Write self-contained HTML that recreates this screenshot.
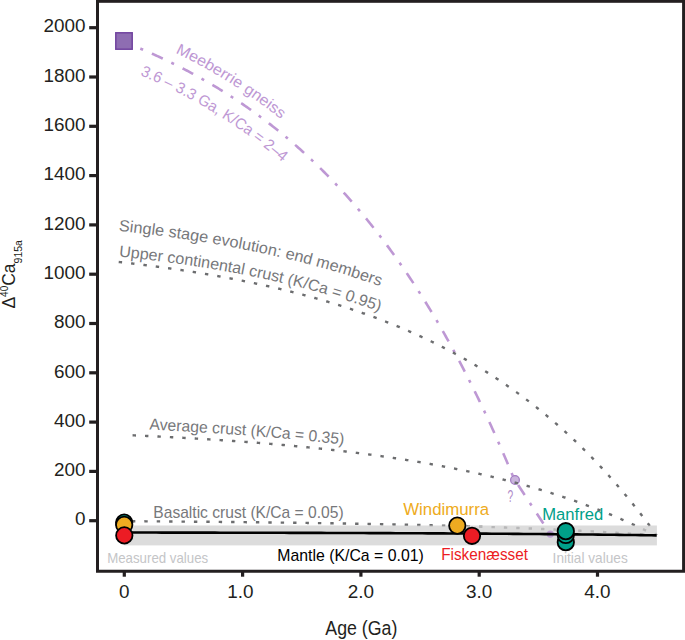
<!DOCTYPE html>
<html><head><meta charset="utf-8"><style>
html,body{margin:0;padding:0;background:#fff;}
body{width:685px;height:640px;overflow:hidden;}
svg{display:block;}
</style></head><body>
<svg width="685" height="640" viewBox="0 0 685 640">
<defs>
<path id="pMeebU" d="M91.01 17.40 L128.22 32.07 L129.53 32.58 L130.86 33.11 L132.18 33.63 L133.50 34.17 L134.82 34.70 L136.14 35.24 L137.46 35.78 L138.79 36.32 L140.11 36.87 L141.43 37.42 L142.75 37.97 L144.07 38.53 L145.40 39.09 L146.72 39.65 L148.04 40.22 L149.36 40.79 L150.69 41.37 L152.01 41.95 L153.33 42.53 L154.65 43.11 L155.98 43.70 L157.30 44.29 L158.62 44.89 L159.95 45.49 L161.27 46.09 L162.59 46.70 L163.92 47.31 L165.24 47.93 L166.56 48.55 L167.89 49.17 L169.21 49.79 L170.53 50.42 L171.86 51.06 L173.18 51.70 L174.50 52.34 L175.83 52.98 L177.15 53.63 L178.47 54.29 L179.80 54.94 L181.12 55.61 L182.45 56.27 L183.77 56.94 L185.09 57.62 L186.42 58.29 L187.74 58.98 L189.07 59.66 L190.39 60.35 L191.72 61.05 L193.04 61.75 L194.37 62.45 L195.69 63.16 L197.01 63.87 L198.34 64.59 L199.66 65.31 L200.99 66.04 L202.31 66.77 L203.64 67.50 L204.96 68.24 L206.29 68.98 L207.61 69.73 L208.94 70.49 L210.26 71.24 L211.59 72.00 L212.91 72.77 L214.24 73.54 L215.56 74.32 L216.89 75.10 L218.21 75.89 L219.54 76.68 L220.87 77.47 L222.19 78.27 L223.52 79.08 L224.84 79.89 L226.17 80.70 L227.49 81.52 L228.82 82.35 L230.14 83.18 L231.47 84.01 L232.79 84.85 L234.12 85.70 L235.45 86.55 L236.77 87.41 L238.10 88.27 L239.42 89.13 L240.75 90.00 L242.07 90.88 L243.40 91.76 L244.73 92.65 L246.05 93.55 L247.38 94.44 L248.70 95.35 L250.03 96.26 L251.35 97.17 L252.68 98.09 L254.01 99.02 L255.33 99.95 L256.66 100.89 L257.98 101.84 L259.31 102.78 L260.63 103.74 L261.96 104.70 L263.29 105.67 L264.61 106.64 L265.94 107.62 L267.26 108.60 L268.59 109.60 L269.91 110.59 L271.24 111.60 L272.57 112.60 L273.89 113.62 L275.22 114.64 L276.54 115.67 L277.87 116.70 L279.19 117.74 L280.52 118.79 L281.85 119.84 L283.17 120.90 L284.50 121.97 L285.82 123.04 L287.15 124.12 L288.47 125.20 L289.80 126.30 L291.12 127.39 L292.45 128.50 L293.77 129.61 L295.10 130.73 L296.42 131.86 L297.75 132.99 L299.07 134.13 L300.40 135.27 L301.72 136.43 L303.05 137.59 L304.37 138.76 L305.70 139.93 L307.02 141.11 L308.35 142.30 L309.67 143.50 L311.00 144.70 L312.32 145.91 L313.65 147.13 L314.97 148.35 L316.30 149.59 L317.62 150.83 L318.95 152.07 L320.27 153.33 L321.59 154.59 L322.92 155.86 L324.24 157.14 L325.57 158.43 L326.89 159.72 L328.21 161.02 L329.54 162.33 L330.86 163.65 L332.19 164.98 L333.51 166.31 L334.83 167.65 L336.16 169.00 L337.48 170.36 L338.80 171.72 L340.13 173.10 L341.45 174.48 L342.77 175.87 L344.10 177.27 L345.42 178.68 L346.74 180.10 L348.06 181.52 L349.39 182.96 L350.71 184.40 L352.03 185.85 L353.35 187.31 L354.68 188.78 L356.00 190.26 L357.32 191.74 L358.64 193.24 L359.97 194.74 L361.29 196.26 L362.61 197.78 L363.93 199.31 L365.25 200.85 L366.57 202.40 L367.90 203.96 L369.22 205.53 L370.54 207.11 L371.86 208.70 L373.18 210.30 L374.50 211.90 L375.82 213.52 L377.14 215.15 L378.46 216.79 L379.78 218.43 L381.11 220.09 L382.43 221.76 L383.75 223.43 L385.07 225.12 L386.39 226.82 L387.71 228.52 L389.03 230.24 L390.35 231.97 L391.66 233.69 L415.84 265.55"/>
<path id="pMeebL" d="M77.66 51.30 L115.15 65.24 L116.43 65.72 L117.70 66.19 L118.96 66.67 L120.22 67.15 L121.48 67.63 L122.74 68.11 L124.01 68.60 L125.27 69.09 L126.53 69.58 L127.79 70.08 L129.05 70.58 L130.31 71.08 L131.57 71.59 L132.84 72.10 L134.10 72.61 L135.36 73.13 L136.62 73.65 L137.88 74.17 L139.14 74.69 L140.40 75.22 L141.66 75.75 L142.92 76.29 L144.18 76.83 L145.45 77.37 L146.71 77.92 L147.97 78.47 L149.23 79.02 L150.49 79.58 L151.75 80.14 L153.01 80.70 L154.27 81.27 L155.53 81.84 L156.79 82.41 L158.05 82.99 L159.31 83.57 L160.57 84.16 L161.83 84.75 L163.09 85.34 L164.35 85.94 L165.61 86.54 L166.87 87.14 L168.13 87.75 L169.39 88.36 L170.65 88.98 L171.91 89.60 L173.18 90.22 L174.44 90.85 L175.70 91.48 L176.96 92.12 L178.22 92.76 L179.48 93.40 L180.74 94.05 L182.00 94.70 L183.26 95.36 L184.52 96.02 L185.78 96.68 L187.04 97.35 L188.30 98.02 L189.56 98.70 L190.82 99.38 L192.08 100.07 L193.34 100.76 L194.60 101.45 L195.86 102.15 L197.12 102.85 L198.38 103.56 L199.65 104.27 L200.91 104.99 L202.17 105.71 L203.43 106.44 L204.69 107.17 L205.95 107.90 L207.21 108.64 L208.47 109.39 L209.73 110.14 L211.00 110.89 L212.26 111.65 L213.52 112.41 L214.78 113.18 L216.04 113.96 L217.30 114.73 L218.56 115.52 L219.83 116.31 L221.09 117.10 L222.35 117.90 L223.61 118.70 L224.88 119.51 L226.14 120.32 L227.40 121.14 L228.66 121.97 L229.93 122.79 L231.19 123.63 L232.45 124.47 L233.71 125.31 L234.98 126.16 L236.24 127.02 L237.50 127.88 L238.77 128.75 L240.03 129.62 L241.29 130.50 L242.56 131.38 L243.82 132.27 L245.09 133.17 L246.35 134.07 L247.62 134.97 L248.88 135.89 L250.14 136.80 L251.41 137.73 L252.67 138.66 L253.94 139.59 L255.21 140.54 L256.47 141.48 L257.74 142.44 L259.00 143.40 L260.27 144.36 L261.53 145.33 L262.80 146.31 L264.07 147.30 L265.33 148.29 L266.60 149.28 L267.87 150.29 L269.14 151.30 L270.40 152.31 L271.67 153.34 L272.94 154.37 L274.21 155.40 L275.47 156.45 L276.74 157.49 L278.01 158.55 L279.28 159.61 L280.55 160.68 L281.82 161.76 L283.09 162.84 L284.36 163.93 L285.63 165.03 L286.90 166.13 L288.17 167.25 L289.44 168.36 L290.71 169.49 L291.98 170.62 L293.25 171.76 L294.52 172.91 L295.79 174.06 L297.07 175.23 L298.34 176.40 L299.61 177.57 L300.88 178.76 L302.16 179.95 L303.43 181.15 L304.70 182.36 L305.98 183.57 L307.25 184.79 L308.53 186.02 L309.80 187.26 L311.07 188.51 L312.35 189.76 L313.62 191.03 L314.90 192.30 L316.18 193.58 L317.45 194.86 L318.73 196.16 L320.00 197.46 L321.28 198.78 L322.56 200.10 L323.83 201.42 L325.11 202.76 L326.39 204.11 L327.67 205.46 L328.95 206.83 L330.22 208.20 L331.50 209.58 L332.78 210.97 L334.06 212.37 L335.34 213.77 L336.62 215.19 L337.90 216.62 L339.18 218.05 L340.46 219.50 L341.74 220.95 L343.03 222.41 L344.31 223.88 L345.59 225.37 L346.87 226.86 L348.15 228.36 L349.44 229.87 L350.72 231.39 L352.00 232.92 L353.29 234.46 L354.57 236.00 L355.85 237.56 L357.14 239.13 L358.42 240.71 L359.71 242.30 L360.99 243.90 L362.28 245.51 L363.57 247.13 L364.85 248.76 L366.14 250.40 L367.44 252.08 L392.02 283.63"/>
<path id="pSingle" d="M103.65 229.05 L123.52 231.30 L124.88 231.45 L126.24 231.61 L127.60 231.77 L128.97 231.92 L130.33 232.08 L131.69 232.24 L133.06 232.40 L134.42 232.56 L135.79 232.72 L137.15 232.89 L138.52 233.05 L139.88 233.22 L141.25 233.38 L142.61 233.55 L143.98 233.72 L145.34 233.89 L146.71 234.06 L148.07 234.23 L149.44 234.40 L150.80 234.58 L152.17 234.75 L153.53 234.93 L154.90 235.11 L156.27 235.29 L157.63 235.47 L159.00 235.65 L160.37 235.83 L161.73 236.01 L163.10 236.20 L164.47 236.38 L165.84 236.57 L167.20 236.76 L168.57 236.94 L169.94 237.14 L171.31 237.33 L172.67 237.52 L174.04 237.71 L175.41 237.91 L176.78 238.11 L178.15 238.30 L179.52 238.50 L180.89 238.70 L182.26 238.90 L183.63 239.11 L185.00 239.31 L186.37 239.52 L187.74 239.72 L189.11 239.93 L190.48 240.14 L191.85 240.35 L193.22 240.56 L194.59 240.78 L195.96 240.99 L197.33 241.21 L198.70 241.43 L200.07 241.65 L201.44 241.87 L202.82 242.09 L204.19 242.31 L205.56 242.54 L206.93 242.76 L208.31 242.99 L209.68 243.22 L211.05 243.45 L212.42 243.68 L213.80 243.92 L215.17 244.15 L216.54 244.39 L217.92 244.63 L219.29 244.87 L220.67 245.11 L222.04 245.35 L223.42 245.60 L224.79 245.84 L226.17 246.09 L227.54 246.34 L228.92 246.59 L230.29 246.84 L231.67 247.10 L233.04 247.35 L234.42 247.61 L235.80 247.87 L237.17 248.13 L238.55 248.39 L239.93 248.65 L241.30 248.92 L242.68 249.19 L244.06 249.46 L245.44 249.73 L246.81 250.00 L248.19 250.27 L249.57 250.55 L250.95 250.83 L252.33 251.11 L253.71 251.39 L255.09 251.67 L256.46 251.96 L257.84 252.25 L259.22 252.53 L260.60 252.83 L261.98 253.12 L263.36 253.41 L264.75 253.71 L266.13 254.01 L267.51 254.31 L268.89 254.61 L270.27 254.91 L271.65 255.22 L273.03 255.53 L274.42 255.84 L275.80 256.15 L277.18 256.46 L278.56 256.78 L279.95 257.10 L281.33 257.42 L282.71 257.74 L284.10 258.07 L285.48 258.39 L286.86 258.72 L288.25 259.05 L289.63 259.38 L291.02 259.72 L292.40 260.06 L293.79 260.40 L295.17 260.74 L296.56 261.08 L297.95 261.43 L299.33 261.78 L300.72 262.13 L302.11 262.48 L303.49 262.83 L304.88 263.19 L306.27 263.55 L307.65 263.91 L309.04 264.28 L310.43 264.64 L311.82 265.01 L313.21 265.39 L314.60 265.76 L315.98 266.14 L317.37 266.51 L318.76 266.90 L320.15 267.28 L321.54 267.67 L322.93 268.05 L324.32 268.45 L325.71 268.84 L327.11 269.24 L328.50 269.63 L329.89 270.04 L331.28 270.44 L332.67 270.85 L334.06 271.26 L335.46 271.67 L336.85 272.08 L338.24 272.50 L339.63 272.92 L341.03 273.34 L342.42 273.77 L343.81 274.20 L345.21 274.63 L346.60 275.06 L348.00 275.50 L349.39 275.94 L350.79 276.38 L352.18 276.82 L353.58 277.27 L354.97 277.72 L356.37 278.18 L357.77 278.63 L359.16 279.09 L360.56 279.56 L361.96 280.02 L363.35 280.49 L364.75 280.96 L366.15 281.44 L367.55 281.91 L368.95 282.40 L370.34 282.88 L371.74 283.37 L373.14 283.86 L374.54 284.35 L375.94 284.85 L377.34 285.35 L378.74 285.85 L380.14 286.36 L381.54 286.87 L382.94 287.38 L384.34 287.90 L385.74 288.42 L387.14 288.94 L388.55 289.47 L389.95 290.00 L391.35 290.53 L392.75 291.07 L394.15 291.61 L395.56 292.15 L396.96 292.70 L398.36 293.25 L399.77 293.80 L401.17 294.36 L402.57 294.92 L403.98 295.49 L405.38 296.06 L406.79 296.63 L408.19 297.21 L409.60 297.79 L411.00 298.37 L412.41 298.96 L413.81 299.55 L415.22 300.14 L416.63 300.74 L418.03 301.35 L419.44 301.95 L420.85 302.56 L422.25 303.18 L423.66 303.80 L425.07 304.42 L426.47 305.05 L427.88 305.68 L429.29 306.31 L430.70 306.95 L432.11 307.59 L433.52 308.24 L434.93 308.89 L436.33 309.55 L437.74 310.21 L439.15 310.87 L440.56 311.54 L441.97 312.21 L443.38 312.89 L444.79 313.57 L446.20 314.26 L447.61 314.95 L449.02 315.64 L450.44 316.34 L451.85 317.04 L453.26 317.75 L454.67 318.46 L456.08 319.18 L457.49 319.90 L458.91 320.63 L460.32 321.36 L461.73 322.09 L463.14 322.84 L464.55 323.58 L465.97 324.33 L467.38 325.09 L468.79 325.84 L470.21 326.61 L471.62 327.38 L473.03 328.15 L474.45 328.93 L475.86 329.72 L477.28 330.51 L478.69 331.30 L480.10 332.10 L481.52 332.90 L482.93 333.71 L484.35 334.53 L485.76 335.35 L487.18 336.17 L488.59 337.00 L490.01 337.84 L491.42 338.68 L492.84 339.53 L494.25 340.38 L495.67 341.24 L497.08 342.10 L498.50 342.97 L499.91 343.84 L501.33 344.72 L502.75 345.61 L504.16 346.50 L505.58 347.39 L506.99 348.29 L508.41 349.20 L509.83 350.12 L511.24 351.04 L512.66 351.96 L514.07 352.89 L515.49 353.83 L516.91 354.77 L518.32 355.72 L519.74 356.67 L521.16 357.63 L522.57 358.60 L523.99 359.57 L525.41 360.55 L526.82 361.54 L528.24 362.53 L529.65 363.53 L531.07 364.53 L532.49 365.54 L533.90 366.56 L535.32 367.58 L536.74 368.61 L538.15 369.65 L539.57 370.69 L540.99 371.74 L542.40 372.80 L543.82 373.86 L545.24 374.93 L546.65 376.00 L548.07 377.09 L549.48 378.17 L550.90 379.27 L552.32 380.37 L553.73 381.48 L555.15 382.60 L556.56 383.72 L557.98 384.85 L559.40 385.99 L560.81 387.14 L562.23 388.29 L563.64 389.45 L565.06 390.62 L566.47 391.79 L567.89 392.97 L569.30 394.16 L570.72 395.35 L572.13 396.56 L573.55 397.77 L574.96 398.99 L576.38 400.21 L577.79 401.45 L579.20 402.69 L580.62 403.94 L582.03 405.19 L583.45 406.46 L584.86 407.73 L586.27 409.01 L587.69 410.30 L589.10 411.59 L590.51 412.90 L591.92 414.21 L593.34 415.53 L594.75 416.86 L596.16 418.20 L597.57 419.54 L598.99 420.89 L600.40 422.25 L601.81 423.62 L603.22 425.00 L604.63 426.39 L606.04 427.79 L607.45 429.19 L608.86 430.60 L610.27 432.02 L611.68 433.45 L613.09 434.89 L614.50 436.34 L615.91 437.80 L617.32 439.26 L618.73 440.74 L620.14 442.22 L621.55 443.71 L622.95 445.21 L624.36 446.72 L625.77 448.24 L627.18 449.77 L628.58 451.31 L629.99 452.86 L631.40 454.42 L632.80 455.99 L634.21 457.56 L635.61 459.15 L637.02 460.74 L638.42 462.35 L639.83 463.97 L641.23 465.59 L642.64 467.23 L644.04 468.87 L645.45 470.53 L646.85 472.19 L648.25 473.87 L649.66 475.56 L651.06 477.25 L652.46 478.96 L653.86 480.67 L655.26 482.40 L656.66 484.14 L658.07 485.89 L659.47 487.65 L660.87 489.42 L662.27 491.20 L663.67 492.99 L665.07 494.79 L666.46 496.60 L667.86 498.43 L669.26 500.26 L670.66 502.11 L672.06 503.97 L673.46 505.84 L674.85 507.72 L676.25 509.61 L677.65 511.51 L679.04 513.43 L680.44 515.35 L681.81 517.25 L693.49 533.48"/>
<path id="pUpper" d="M100.77 254.50 L120.66 256.64 L122.00 256.78 L123.35 256.93 L124.70 257.08 L126.04 257.22 L127.39 257.37 L128.74 257.52 L130.08 257.67 L131.43 257.82 L132.77 257.98 L134.12 258.13 L135.47 258.29 L136.81 258.44 L138.16 258.60 L139.51 258.76 L140.85 258.91 L142.20 259.07 L143.55 259.23 L144.89 259.40 L146.24 259.56 L147.59 259.72 L148.93 259.89 L150.28 260.05 L151.63 260.22 L152.98 260.39 L154.32 260.56 L155.67 260.73 L157.02 260.90 L158.36 261.08 L159.71 261.25 L161.06 261.43 L162.41 261.60 L163.75 261.78 L165.10 261.96 L166.45 262.14 L167.80 262.32 L169.14 262.50 L170.49 262.68 L171.84 262.87 L173.19 263.06 L174.53 263.24 L175.88 263.43 L177.23 263.62 L178.58 263.81 L179.93 264.00 L181.27 264.20 L182.62 264.39 L183.97 264.59 L185.32 264.78 L186.67 264.98 L188.01 265.18 L189.36 265.38 L190.71 265.59 L192.06 265.79 L193.41 266.00 L194.75 266.20 L196.10 266.41 L197.45 266.62 L198.80 266.83 L200.15 267.04 L201.50 267.26 L202.85 267.47 L204.19 267.69 L205.54 267.90 L206.89 268.12 L208.24 268.34 L209.59 268.57 L210.94 268.79 L212.29 269.01 L213.64 269.24 L214.99 269.47 L216.34 269.70 L217.68 269.93 L219.03 270.16 L220.38 270.39 L221.73 270.63 L223.08 270.87 L224.43 271.10 L225.78 271.34 L227.13 271.59 L228.48 271.83 L229.83 272.07 L231.18 272.32 L232.53 272.57 L233.88 272.82 L235.23 273.07 L236.58 273.32 L237.93 273.58 L239.28 273.83 L240.63 274.09 L241.98 274.35 L243.33 274.61 L244.68 274.87 L246.03 275.14 L247.38 275.41 L248.73 275.67 L250.08 275.94 L251.43 276.21 L252.78 276.49 L254.14 276.76 L255.49 277.04 L256.84 277.32 L258.19 277.60 L259.54 277.88 L260.89 278.17 L262.24 278.45 L263.59 278.74 L264.94 279.03 L266.29 279.32 L267.65 279.62 L269.00 279.91 L270.35 280.21 L271.70 280.51 L273.05 280.81 L274.40 281.11 L275.76 281.42 L277.11 281.73 L278.46 282.03 L279.81 282.35 L281.16 282.66 L282.52 282.97 L283.87 283.29 L285.22 283.61 L286.57 283.93 L287.92 284.26 L289.28 284.58 L290.63 284.91 L291.98 285.24 L293.33 285.57 L294.69 285.91 L296.04 286.24 L297.39 286.58 L298.75 286.92 L300.10 287.27 L301.45 287.61 L302.81 287.96 L304.16 288.31 L305.51 288.66 L306.87 289.01 L308.22 289.37 L309.57 289.73 L310.93 290.09 L312.28 290.45 L313.63 290.82 L314.99 291.19 L316.34 291.56 L317.69 291.93 L319.05 292.31 L320.40 292.69 L321.76 293.07 L323.11 293.45 L324.47 293.83 L325.82 294.22 L327.17 294.61 L328.53 295.01 L329.88 295.40 L331.24 295.80 L332.59 296.20 L333.95 296.60 L335.30 297.01 L336.66 297.42 L338.01 297.83 L339.37 298.24 L340.72 298.66 L342.08 299.08 L343.43 299.50 L344.79 299.92 L346.15 300.35 L347.50 300.78 L348.86 301.21 L350.21 301.65 L351.57 302.09 L352.92 302.53 L354.28 302.97 L355.64 303.42 L356.99 303.87 L358.35 304.32 L359.71 304.78 L361.06 305.24 L362.42 305.70 L363.78 306.17 L365.13 306.63 L366.49 307.10 L367.85 307.58 L369.20 308.05 L370.56 308.53 L371.92 309.02 L373.27 309.50 L374.63 309.99 L375.99 310.48 L377.35 310.98 L378.70 311.48 L380.06 311.98 L381.42 312.49 L382.78 312.99 L384.13 313.51 L385.49 314.02 L386.85 314.54 L388.21 315.06 L389.57 315.59 L390.92 316.12 L392.28 316.65 L393.64 317.18 L395.00 317.72 L396.36 318.26 L397.72 318.81 L399.08 319.36 L400.43 319.91 L401.79 320.47 L403.15 321.03 L404.51 321.59 L405.87 322.16 L407.23 322.73 L408.59 323.30 L409.95 323.88 L411.31 324.46 L412.67 325.05 L414.03 325.64 L415.39 326.23 L416.75 326.83 L418.11 327.43 L419.47 328.04 L420.83 328.64 L422.19 329.26 L423.55 329.87 L424.91 330.49 L426.27 331.12 L427.63 331.75 L428.99 332.38 L430.35 333.02 L431.71 333.66 L433.07 334.30 L434.43 334.95 L435.79 335.60 L437.15 336.26 L438.51 336.92 L439.88 337.59 L441.24 338.26 L442.60 338.93 L443.96 339.61 L445.32 340.30 L446.68 340.98 L448.04 341.68 L449.41 342.37 L450.77 343.07 L452.13 343.78 L453.49 344.49 L454.85 345.20 L456.21 345.92 L457.58 346.65 L458.94 347.37 L460.30 348.11 L461.66 348.84 L463.03 349.59 L464.39 350.33 L465.75 351.09 L467.11 351.84 L468.48 352.60 L469.84 353.37 L471.20 354.14 L472.56 354.92 L473.93 355.70 L475.29 356.49 L476.65 357.28 L478.02 358.07 L479.38 358.88 L480.74 359.68 L482.11 360.49 L483.47 361.31 L484.83 362.13 L486.20 362.96 L487.56 363.79 L488.92 364.63 L490.29 365.48 L491.65 366.32 L493.01 367.18 L494.38 368.04 L495.74 368.90 L497.10 369.77 L498.47 370.65 L499.83 371.53 L501.20 372.42 L502.56 373.31 L503.92 374.21 L505.29 375.12 L506.65 376.03 L508.02 376.94 L509.38 377.87 L510.75 378.79 L512.11 379.73 L513.47 380.67 L514.84 381.61 L516.20 382.57 L517.57 383.52 L518.93 384.49 L520.30 385.46 L521.66 386.43 L523.03 387.42 L524.39 388.41 L525.76 389.40 L527.12 390.40 L528.48 391.41 L529.85 392.42 L531.21 393.45 L532.58 394.47 L533.94 395.51 L535.31 396.55 L536.67 397.59 L538.04 398.65 L539.40 399.71 L540.77 400.77 L542.13 401.85 L543.50 402.93 L544.86 404.02 L546.23 405.11 L547.59 406.21 L548.96 407.32 L550.32 408.44 L551.69 409.56 L553.05 410.69 L554.42 411.82 L555.78 412.97 L557.15 414.12 L558.51 415.28 L559.88 416.44 L561.24 417.62 L562.61 418.80 L563.97 419.99 L565.34 421.18 L566.70 422.38 L568.07 423.60 L569.43 424.81 L570.80 426.04 L572.16 427.27 L573.53 428.52 L574.89 429.77 L576.26 431.02 L577.62 432.29 L578.99 433.56 L580.35 434.84 L581.72 436.13 L583.08 437.43 L584.45 438.74 L585.81 440.05 L587.18 441.37 L588.54 442.71 L589.91 444.05 L591.27 445.39 L592.64 446.75 L594.00 448.11 L595.37 449.49 L596.73 450.87 L598.10 452.26 L599.46 453.66 L600.83 455.07 L602.19 456.49 L603.56 457.91 L604.92 459.35 L606.29 460.79 L607.65 462.25 L609.01 463.71 L610.38 465.18 L611.74 466.66 L613.11 468.15 L614.47 469.65 L615.84 471.16 L617.20 472.68 L618.56 474.21 L619.93 475.75 L621.29 477.29 L622.66 478.85 L624.02 480.42 L625.39 481.99 L626.75 483.58 L628.11 485.18 L629.48 486.79 L630.84 488.40 L632.20 490.03 L633.57 491.67 L634.93 493.32 L636.30 494.97 L637.66 496.64 L639.02 498.32 L640.39 500.01 L641.75 501.71 L643.11 503.42 L644.48 505.14 L645.84 506.88 L647.20 508.62 L648.57 510.37 L649.93 512.14 L651.29 513.91 L652.65 515.70 L654.02 517.50 L655.38 519.31 L656.74 521.13 L658.11 522.96 L659.47 524.81 L660.83 526.67 L662.19 528.53 L663.55 530.40 L675.29 546.59"/>
<path id="pAvg" d="M113.36 427.94 L133.34 428.83 L135.96 428.95 L138.59 429.07 L141.21 429.19 L143.83 429.31 L146.45 429.43 L149.07 429.55 L151.69 429.68 L154.32 429.81 L156.94 429.94 L159.56 430.07 L162.18 430.20 L164.80 430.33 L167.43 430.47 L170.05 430.61 L172.67 430.75 L175.29 430.89 L177.91 431.03 L180.54 431.17 L183.16 431.32 L185.78 431.47 L188.40 431.62 L191.03 431.77 L193.65 431.92 L196.27 432.08 L198.90 432.24 L201.52 432.40 L204.14 432.56 L206.76 432.72 L209.39 432.89 L212.01 433.05 L214.63 433.22 L217.26 433.39 L219.88 433.57 L222.50 433.74 L225.13 433.92 L227.75 434.10 L230.37 434.28 L233.00 434.47 L235.62 434.65 L238.24 434.84 L240.87 435.03 L243.49 435.23 L246.12 435.42 L248.74 435.62 L251.36 435.82 L253.99 436.03 L256.61 436.23 L259.24 436.44 L261.86 436.65 L264.48 436.87 L267.11 437.08 L269.73 437.30 L272.36 437.53 L274.98 437.75 L277.61 437.98 L280.23 438.21 L282.86 438.44 L285.48 438.68 L288.11 438.92 L290.73 439.16 L293.36 439.40 L295.98 439.65 L298.61 439.90 L301.23 440.16 L303.86 440.41 L306.49 440.67 L309.11 440.94 L311.74 441.20 L314.36 441.47 L316.99 441.75 L319.62 442.02 L322.24 442.30 L324.87 442.59 L327.50 442.88 L330.12 443.17 L332.75 443.46 L335.38 443.76 L338.00 444.06 L340.63 444.37 L343.26 444.68 L345.88 444.99 L348.51 445.31 L351.14 445.63 L353.77 445.95 L356.39 446.28 L359.02 446.61 L361.65 446.95 L364.28 447.29 L366.91 447.64 L369.54 447.99 L372.16 448.34 L374.79 448.70 L377.42 449.06 L380.05 449.43 L382.68 449.80 L385.31 450.18 L387.94 450.56 L390.57 450.95 L393.20 451.34 L395.83 451.73 L398.45 452.13 L401.08 452.54 L403.71 452.95 L406.34 453.37 L408.98 453.79 L411.61 454.21 L414.24 454.64 L416.87 455.08 L419.50 455.52 L422.13 455.97 L424.76 456.42 L427.39 456.88 L430.02 457.35 L432.65 457.82 L435.29 458.29 L437.92 458.78 L440.55 459.26 L443.18 459.76 L445.81 460.26 L448.45 460.76 L451.08 461.28 L453.71 461.80 L456.35 462.32 L458.98 462.85 L461.61 463.39 L464.25 463.94 L466.88 464.49 L469.51 465.05 L472.15 465.61 L474.78 466.19 L477.41 466.77 L480.05 467.35 L482.68 467.95 L485.32 468.55 L487.95 469.16 L490.59 469.77 L493.22 470.40 L495.86 471.03 L498.50 471.67 L501.13 472.32 L503.77 472.97 L506.40 473.64 L509.04 474.31 L511.68 474.99 L514.31 475.68 L516.95 476.38 L519.59 477.09 L522.23 477.80 L524.86 478.52 L527.50 479.26 L530.14 480.00 L532.78 480.75 L535.42 481.51 L538.05 482.28 L540.69 483.06 L543.33 483.85 L545.97 484.65 L548.61 485.46 L551.25 486.28 L553.89 487.11 L556.53 487.95 L559.17 488.80 L561.81 489.66 L564.45 490.53 L567.09 491.41 L569.73 492.30 L572.37 493.21 L575.01 494.12 L577.66 495.05 L580.30 495.99 L582.94 496.94 L585.58 497.90 L588.22 498.87 L590.87 499.86 L593.51 500.86 L596.15 501.87 L598.79 502.89 L601.44 503.92 L604.08 504.97 L606.73 506.03 L609.37 507.11 L612.01 508.20 L614.66 509.30 L617.30 510.41 L619.95 511.54 L622.59 512.68 L625.24 513.84 L627.88 515.01 L630.53 516.20 L633.17 517.40 L635.82 518.62 L638.46 519.85 L641.11 521.09 L643.75 522.35 L646.40 523.63 L649.05 524.92 L651.69 526.23 L654.34 527.56 L656.99 528.90 L659.62 530.25 L677.41 539.38"/>
</defs>
<rect x="0" y="0" width="685" height="640" fill="#fff"/>
<path d="M124.30 42.02 L125.60 42.53 L126.90 43.05 L128.20 43.57 L129.50 44.09 L130.80 44.62 L132.10 45.14 L133.40 45.68 L134.71 46.21 L136.01 46.75 L137.31 47.29 L138.61 47.84 L139.91 48.38 L141.21 48.94 L142.51 49.49 L143.81 50.05 L145.11 50.61 L146.41 51.18 L147.71 51.74 L149.01 52.32 L150.31 52.89 L151.61 53.47 L152.91 54.05 L154.22 54.64 L155.52 55.23 L156.82 55.82 L158.12 56.42 L159.42 57.02 L160.72 57.62 L162.02 58.23 L163.32 58.84 L164.62 59.46 L165.92 60.08 L167.22 60.70 L168.52 61.33 L169.82 61.96 L171.12 62.59 L172.42 63.23 L173.73 63.88 L175.03 64.52 L176.33 65.17 L177.63 65.83 L178.93 66.48 L180.23 67.15 L181.53 67.81 L182.83 68.48 L184.13 69.16 L185.43 69.84 L186.73 70.52 L188.03 71.20 L189.33 71.90 L190.63 72.59 L191.93 73.29 L193.24 73.99 L194.54 74.70 L195.84 75.41 L197.14 76.13 L198.44 76.85 L199.74 77.58 L201.04 78.31 L202.34 79.04 L203.64 79.78 L204.94 80.53 L206.24 81.27 L207.54 82.03 L208.84 82.78 L210.14 83.54 L211.44 84.31 L212.75 85.08 L214.05 85.86 L215.35 86.64 L216.65 87.42 L217.95 88.21 L219.25 89.01 L220.55 89.81 L221.85 90.61 L223.15 91.42 L224.45 92.24 L225.75 93.06 L227.05 93.88 L228.35 94.71 L229.65 95.55 L230.95 96.39 L232.26 97.23 L233.56 98.08 L234.86 98.94 L236.16 99.80 L237.46 100.66 L238.76 101.53 L240.06 102.41 L241.36 103.29 L242.66 104.18 L243.96 105.07 L245.26 105.97 L246.56 106.87 L247.86 107.78 L249.16 108.70 L250.46 109.62 L251.77 110.54 L253.07 111.48 L254.37 112.41 L255.67 113.36 L256.97 114.30 L258.27 115.26 L259.57 116.22 L260.87 117.18 L262.17 118.16 L263.47 119.14 L264.77 120.12 L266.07 121.11 L267.37 122.11 L268.67 123.11 L269.97 124.12 L271.28 125.13 L272.58 126.15 L273.88 127.18 L275.18 128.21 L276.48 129.25 L277.78 130.30 L279.08 131.35 L280.38 132.41 L281.68 133.47 L282.98 134.54 L284.28 135.62 L285.58 136.71 L286.88 137.80 L288.18 138.90 L289.48 140.00 L290.79 141.11 L292.09 142.23 L293.39 143.36 L294.69 144.49 L295.99 145.63 L297.29 146.77 L298.59 147.93 L299.89 149.09 L301.19 150.25 L302.49 151.43 L303.79 152.61 L305.09 153.80 L306.39 154.99 L307.69 156.20 L309.00 157.41 L310.30 158.63 L311.60 159.85 L312.90 161.08 L314.20 162.32 L315.50 163.57 L316.80 164.83 L318.10 166.09 L319.40 167.36 L320.70 168.64 L322.00 169.93 L323.30 171.22 L324.60 172.53 L325.90 173.84 L327.20 175.15 L328.51 176.48 L329.81 177.81 L331.11 179.16 L332.41 180.51 L333.71 181.87 L335.01 183.24 L336.31 184.61 L337.61 186.00 L338.91 187.39 L340.21 188.79 L341.51 190.20 L342.81 191.62 L344.11 193.04 L345.41 194.48 L346.71 195.93 L348.02 197.38 L349.32 198.84 L350.62 200.31 L351.92 201.79 L353.22 203.28 L354.52 204.78 L355.82 206.29 L357.12 207.80 L358.42 209.33 L359.72 210.87 L361.02 212.41 L362.32 213.96 L363.62 215.53 L364.92 217.10 L366.22 218.68 L367.53 220.28 L368.83 221.88 L370.13 223.49 L371.43 225.11 L372.73 226.75 L374.03 228.39 L375.33 230.04 L376.63 231.70 L377.93 233.37 L379.23 235.06 L380.53 236.75 L381.83 238.45 L383.13 240.16 L384.43 241.89 L385.73 243.62 L387.04 245.37 L388.34 247.12 L389.64 248.89 L390.94 250.67 L392.24 252.46 L393.54 254.25 L394.84 256.06 L396.14 257.89 L397.44 259.72 L398.74 261.56 L400.04 263.42 L401.34 265.28 L402.64 267.16 L403.94 269.05 L405.24 270.95 L406.55 272.86 L407.85 274.78 L409.15 276.72 L410.45 278.67 L411.75 280.63 L413.05 282.60 L414.35 284.58 L415.65 286.58 L416.95 288.58 L418.25 290.60 L419.55 292.64 L420.85 294.68 L422.15 296.74 L423.45 298.81 L424.75 300.89 L426.06 302.98 L427.36 305.09 L428.66 307.21 L429.96 309.35 L431.26 311.49 L432.56 313.65 L433.86 315.83 L435.16 318.01 L436.46 320.21 L437.76 322.43 L439.06 324.65 L440.36 326.89 L441.66 329.15 L442.96 331.41 L444.26 333.70 L445.57 335.99 L446.87 338.30 L448.17 340.63 L449.47 342.96 L450.77 345.32 L452.07 347.68 L453.37 350.06 L454.67 352.46 L455.97 354.87 L457.27 357.29 L458.57 359.73 L459.87 362.19 L461.17 364.66 L462.47 367.14 L463.77 369.64 L465.08 372.16 L466.38 374.69 L467.68 377.24 L468.98 379.80 L470.28 382.38 L471.58 384.97 L472.88 387.58 L474.18 390.20 L475.48 392.84 L476.78 395.50 L478.08 398.17 L479.38 400.86 L480.68 403.57 L481.98 406.29 L483.28 409.03 L484.59 411.79 L485.89 414.56 L487.19 417.35 L488.49 420.16 L489.79 422.98 L491.09 425.82 L492.39 428.68 L493.69 431.56 L494.99 434.45 L496.29 437.36 L497.59 440.29 L498.89 443.24 L500.19 446.21 L501.49 449.19 L502.79 452.19 L504.10 455.21 L505.40 458.25 L506.70 461.31 L508.00 464.38 L509.30 467.48 L510.60 470.59 L511.90 473.72 L513.20 476.87 L514.50 480.05" fill="none" stroke="#be98d4" stroke-width="2.6" stroke-dasharray="3 9.6 12 9.5" stroke-dashoffset="16.80"/>
<path d="M514.75 479.75 L550.25 534.1" fill="none" stroke="#be98d4" stroke-width="2.6" stroke-dasharray="12 9.5 3 9.6" stroke-dashoffset="27.9"/>
<circle cx="515.0" cy="480.0" r="4.4" fill="#c4acd9" fill-opacity="0.9" stroke="#a27cc2" stroke-width="1.2"/>
<path d="M118.38 261.92 L119.06 261.99 L119.73 262.07 L120.40 262.15 L121.08 262.22 L121.75 262.30 L122.42 262.37 L123.09 262.45 L123.77 262.53 L124.44 262.61 L125.11 262.68 L125.79 262.76 L126.46 262.84 L127.13 262.92 L127.80 263.00 L128.48 263.08 L129.15 263.15 L129.82 263.23 L130.50 263.31 L131.17 263.39 L131.84 263.47 L132.51 263.55 L133.19 263.63 L133.86 263.71 L134.53 263.80 L135.21 263.88 L135.88 263.96 L136.55 264.04 L137.22 264.12 L137.90 264.20 L138.57 264.29 L139.24 264.37 L139.92 264.45 L140.59 264.54 L141.26 264.62 L141.93 264.70 L142.61 264.79 L143.28 264.87 L143.95 264.96 L144.63 265.04 L145.30 265.13 L145.97 265.21 L146.64 265.30 L147.32 265.38 L147.99 265.47 L148.66 265.56 L149.34 265.64 L150.01 265.73 L150.68 265.82 L151.35 265.91 L152.03 265.99 L152.70 266.08 L153.37 266.17 L154.05 266.26 L154.72 266.35 L155.39 266.44 L156.06 266.53 L156.74 266.62 L157.41 266.71 L158.08 266.80 L158.75 266.89 L159.43 266.98 L160.10 267.07 L160.77 267.16 L161.45 267.26 L162.12 267.35 L162.79 267.44 L163.46 267.53 L164.14 267.63 L164.81 267.72 L165.48 267.81 L166.16 267.91 L166.83 268.00 L167.50 268.10 L168.17 268.19 L168.85 268.29 L169.52 268.38 L170.19 268.48 L170.87 268.57 L171.54 268.67 L172.21 268.77 L172.88 268.86 L173.56 268.96 L174.23 269.06 L174.90 269.16 L175.58 269.26 L176.25 269.35 L176.92 269.45 L177.59 269.55 L178.27 269.65 L178.94 269.75 L179.61 269.85 L180.29 269.95 L180.96 270.05 L181.63 270.15 L182.30 270.25 L182.98 270.36 L183.65 270.46 L184.32 270.56 L185.00 270.66 L185.67 270.77 L186.34 270.87 L187.01 270.97 L187.69 271.08 L188.36 271.18 L189.03 271.29 L189.71 271.39 L190.38 271.50 L191.05 271.60 L191.72 271.71 L192.40 271.81 L193.07 271.92 L193.74 272.03 L194.41 272.14 L195.09 272.24 L195.76 272.35 L196.43 272.46 L197.11 272.57 L197.78 272.68 L198.45 272.79 L199.12 272.90 L199.80 273.01 L200.47 273.12 L201.14 273.23 L201.82 273.34 L202.49 273.45 L203.16 273.56 L203.83 273.67 L204.51 273.79 L205.18 273.90 L205.85 274.01 L206.53 274.13 L207.20 274.24 L207.87 274.35 L208.54 274.47 L209.22 274.58 L209.89 274.70 L210.56 274.81 L211.24 274.93 L211.91 275.05 L212.58 275.16 L213.25 275.28 L213.93 275.40 L214.60 275.52 L215.27 275.64 L215.95 275.75 L216.62 275.87 L217.29 275.99 L217.96 276.11 L218.64 276.23 L219.31 276.35 L219.98 276.47 L220.66 276.60 L221.33 276.72 L222.00 276.84 L222.67 276.96 L223.35 277.08 L224.02 277.21 L224.69 277.33 L225.37 277.46 L226.04 277.58 L226.71 277.70 L227.38 277.83 L228.06 277.96 L228.73 278.08 L229.40 278.21 L230.07 278.33 L230.75 278.46 L231.42 278.59 L232.09 278.72 L232.77 278.85 L233.44 278.98 L234.11 279.10 L234.78 279.23 L235.46 279.36 L236.13 279.49 L236.80 279.63 L237.48 279.76 L238.15 279.89 L238.82 280.02 L239.49 280.15 L240.17 280.29 L240.84 280.42 L241.51 280.55 L242.19 280.69 L242.86 280.82 L243.53 280.96 L244.20 281.09 L244.88 281.23 L245.55 281.36 L246.22 281.50 L246.90 281.64 L247.57 281.78 L248.24 281.91 L248.91 282.05 L249.59 282.19 L250.26 282.33 L250.93 282.47 L251.61 282.61 L252.28 282.75 L252.95 282.89 L253.62 283.03 L254.30 283.18 L254.97 283.32 L255.64 283.46 L256.32 283.61 L256.99 283.75 L257.66 283.89 L258.33 284.04 L259.01 284.18 L259.68 284.33 L260.35 284.48 L261.03 284.62 L261.70 284.77 L262.37 284.92 L263.04 285.07 L263.72 285.21 L264.39 285.36 L265.06 285.51 L265.74 285.66 L266.41 285.81 L267.08 285.96 L267.75 286.11 L268.43 286.27 L269.10 286.42 L269.77 286.57 L270.44 286.72 L271.12 286.88 L271.79 287.03 L272.46 287.19 L273.14 287.34 L273.81 287.50 L274.48 287.65 L275.15 287.81 L275.83 287.97 L276.50 288.13 L277.17 288.28 L277.85 288.44 L278.52 288.60 L279.19 288.76 L279.86 288.92 L280.54 289.08 L281.21 289.24 L281.88 289.40 L282.56 289.57 L283.23 289.73 L283.90 289.89 L284.57 290.06 L285.25 290.22 L285.92 290.39 L286.59 290.55 L287.27 290.72 L287.94 290.88 L288.61 291.05 L289.28 291.22 L289.96 291.38 L290.63 291.55 L291.30 291.72 L291.98 291.89 L292.65 292.06 L293.32 292.23 L293.99 292.40 L294.67 292.57 L295.34 292.75 L296.01 292.92 L296.69 293.09 L297.36 293.27 L298.03 293.44 L298.70 293.62 L299.38 293.79 L300.05 293.97 L300.72 294.14 L301.40 294.32 L302.07 294.50 L302.74 294.68 L303.41 294.86 L304.09 295.04 L304.76 295.22 L305.43 295.40 L306.10 295.58 L306.78 295.76 L307.45 295.94 L308.12 296.12 L308.80 296.31 L309.47 296.49 L310.14 296.68 L310.81 296.86 L311.49 297.05 L312.16 297.23 L312.83 297.42 L313.51 297.61 L314.18 297.79 L314.85 297.98 L315.52 298.17 L316.20 298.36 L316.87 298.55 L317.54 298.74 L318.22 298.94 L318.89 299.13 L319.56 299.32 L320.23 299.51 L320.91 299.71 L321.58 299.90 L322.25 300.10 L322.93 300.29 L323.60 300.49 L324.27 300.69 L324.94 300.89 L325.62 301.08 L326.29 301.28 L326.96 301.48 L327.64 301.68 L328.31 301.88 L328.98 302.09 L329.65 302.29 L330.33 302.49 L331.00 302.69 L331.67 302.90 L332.35 303.10 L333.02 303.31 L333.69 303.51 L334.36 303.72 L335.04 303.93 L335.71 304.14 L336.38 304.35 L337.06 304.56 L337.73 304.77 L338.40 304.98 L339.07 305.19 L339.75 305.40 L340.42 305.61 L341.09 305.83 L341.76 306.04 L342.44 306.25 L343.11 306.47 L343.78 306.69 L344.46 306.90 L345.13 307.12 L345.80 307.34 L346.47 307.56 L347.15 307.78 L347.82 308.00 L348.49 308.22 L349.17 308.44 L349.84 308.66 L350.51 308.88 L351.18 309.11 L351.86 309.33 L352.53 309.56 L353.20 309.78 L353.88 310.01 L354.55 310.24 L355.22 310.46 L355.89 310.69 L356.57 310.92 L357.24 311.15 L357.91 311.38 L358.59 311.61 L359.26 311.85 L359.93 312.08 L360.60 312.31 L361.28 312.55 L361.95 312.78 L362.62 313.02 L363.30 313.26 L363.97 313.49 L364.64 313.73 L365.31 313.97 L365.99 314.21 L366.66 314.45 L367.33 314.69 L368.01 314.93 L368.68 315.18 L369.35 315.42 L370.02 315.67 L370.70 315.91 L371.37 316.16 L372.04 316.40 L372.72 316.65 L373.39 316.90 L374.06 317.15 L374.73 317.40 L375.41 317.65 L376.08 317.90 L376.75 318.15 L377.43 318.40 L378.10 318.66 L378.77 318.91 L379.44 319.17 L380.12 319.42 L380.79 319.68 L381.46 319.94 L382.13 320.20 L382.81 320.46 L383.48 320.72 L384.15 320.98 L384.83 321.24 L385.50 321.50 L386.17 321.77 L386.84 322.03 L387.52 322.30 L388.19 322.56 L388.86 322.83 L389.54 323.10 L390.21 323.36 L390.88 323.63 L391.55 323.90 L392.23 324.18 L392.90 324.45 L393.57 324.72 L394.25 324.99 L394.92 325.27 L395.59 325.54 L396.26 325.82 L396.94 326.10 L397.61 326.38 L398.28 326.65 L398.96 326.93 L399.63 327.21 L400.30 327.50 L400.97 327.78 L401.65 328.06 L402.32 328.35 L402.99 328.63 L403.67 328.92 L404.34 329.20 L405.01 329.49 L405.68 329.78 L406.36 330.07 L407.03 330.36 L407.70 330.65 L408.38 330.95 L409.05 331.24 L409.72 331.53 L410.39 331.83 L411.07 332.12 L411.74 332.42 L412.41 332.72 L413.09 333.02 L413.76 333.32 L414.43 333.62 L415.10 333.92 L415.78 334.22 L416.45 334.53 L417.12 334.83 L417.79 335.14 L418.47 335.44 L419.14 335.75 L419.81 336.06 L420.49 336.37 L421.16 336.68 L421.83 336.99 L422.50 337.30 L423.18 337.62 L423.85 337.93 L424.52 338.25 L425.20 338.56 L425.87 338.88 L426.54 339.20 L427.21 339.52 L427.89 339.84 L428.56 340.16 L429.23 340.48 L429.91 340.81 L430.58 341.13 L431.25 341.46 L431.92 341.78 L432.60 342.11 L433.27 342.44 L433.94 342.77 L434.62 343.10 L435.29 343.43 L435.96 343.76 L436.63 344.10 L437.31 344.43 L437.98 344.77 L438.65 345.10 L439.33 345.44 L440.00 345.78 L440.67 346.12 L441.34 346.46 L442.02 346.81 L442.69 347.15 L443.36 347.49 L444.04 347.84 L444.71 348.19 L445.38 348.53 L446.05 348.88 L446.73 349.23 L447.40 349.58 L448.07 349.94 L448.75 350.29 L449.42 350.64 L450.09 351.00 L450.76 351.36 L451.44 351.71 L452.11 352.07 L452.78 352.43 L453.45 352.79 L454.13 353.16 L454.80 353.52 L455.47 353.88 L456.15 354.25 L456.82 354.62 L457.49 354.98 L458.16 355.35 L458.84 355.72 L459.51 356.10 L460.18 356.47 L460.86 356.84 L461.53 357.22 L462.20 357.59 L462.87 357.97 L463.55 358.35 L464.22 358.73 L464.89 359.11 L465.57 359.49 L466.24 359.88 L466.91 360.26 L467.58 360.65 L468.26 361.03 L468.93 361.42 L469.60 361.81 L470.28 362.20 L470.95 362.60 L471.62 362.99 L472.29 363.38 L472.97 363.78 L473.64 364.18 L474.31 364.57 L474.99 364.97 L475.66 365.37 L476.33 365.78 L477.00 366.18 L477.68 366.58 L478.35 366.99 L479.02 367.40 L479.70 367.81 L480.37 368.22 L481.04 368.63 L481.71 369.04 L482.39 369.45 L483.06 369.87 L483.73 370.28 L484.41 370.70 L485.08 371.12 L485.75 371.54 L486.42 371.96 L487.10 372.38 L487.77 372.81 L488.44 373.23 L489.12 373.66 L489.79 374.09 L490.46 374.52 L491.13 374.95 L491.81 375.38 L492.48 375.82 L493.15 376.25 L493.82 376.69 L494.50 377.13 L495.17 377.56 L495.84 378.01 L496.52 378.45 L497.19 378.89 L497.86 379.33 L498.53 379.78 L499.21 380.23 L499.88 380.68 L500.55 381.13 L501.23 381.58 L501.90 382.03 L502.57 382.49 L503.24 382.94 L503.92 383.40 L504.59 383.86 L505.26 384.32 L505.94 384.78 L506.61 385.25 L507.28 385.71 L507.95 386.18 L508.63 386.64 L509.30 387.11 L509.97 387.58 L510.65 388.06 L511.32 388.53 L511.99 389.01 L512.66 389.48 L513.34 389.96 L514.01 390.44 L514.68 390.92 L515.36 391.40 L516.03 391.89 L516.70 392.37 L517.37 392.86 L518.05 393.35 L518.72 393.84 L519.39 394.33 L520.07 394.83 L520.74 395.32 L521.41 395.82 L522.08 396.32 L522.76 396.82 L523.43 397.32 L524.10 397.82 L524.78 398.32 L525.45 398.83 L526.12 399.34 L526.79 399.85 L527.47 400.36 L528.14 400.87 L528.81 401.38 L529.48 401.90 L530.16 402.42 L530.83 402.94 L531.50 403.46 L532.18 403.98 L532.85 404.50 L533.52 405.03 L534.19 405.56 L534.87 406.09 L535.54 406.62 L536.21 407.15 L536.89 407.68 L537.56 408.22 L538.23 408.76 L538.90 409.29 L539.58 409.84 L540.25 410.38 L540.92 410.92 L541.60 411.47 L542.27 412.02 L542.94 412.56 L543.61 413.12 L544.29 413.67 L544.96 414.22 L545.63 414.78 L546.31 415.34 L546.98 415.90 L547.65 416.46 L548.32 417.02 L549.00 417.59 L549.67 418.15 L550.34 418.72 L551.02 419.29 L551.69 419.87 L552.36 420.44 L553.03 421.02 L553.71 421.59 L554.38 422.17 L555.05 422.75 L555.73 423.34 L556.40 423.92 L557.07 424.51 L557.74 425.10 L558.42 425.69 L559.09 426.28 L559.76 426.88 L560.44 427.47 L561.11 428.07 L561.78 428.67 L562.45 429.27 L563.13 429.88 L563.80 430.48 L564.47 431.09 L565.14 431.70 L565.82 432.31 L566.49 432.92 L567.16 433.54 L567.84 434.16 L568.51 434.78 L569.18 435.40 L569.85 436.02 L570.53 436.64 L571.20 437.27 L571.87 437.90 L572.55 438.53 L573.22 439.17 L573.89 439.80 L574.56 440.44 L575.24 441.08 L575.91 441.72 L576.58 442.36 L577.26 443.01 L577.93 443.65 L578.60 444.30 L579.27 444.95 L579.95 445.61 L580.62 446.26 L581.29 446.92 L581.97 447.58 L582.64 448.24 L583.31 448.90 L583.98 449.57 L584.66 450.24 L585.33 450.91 L586.00 451.58 L586.68 452.25 L587.35 452.93 L588.02 453.61 L588.69 454.29 L589.37 454.97 L590.04 455.66 L590.71 456.34 L591.39 457.03 L592.06 457.73 L592.73 458.42 L593.40 459.11 L594.08 459.81 L594.75 460.51 L595.42 461.22 L596.10 461.92 L596.77 462.63 L597.44 463.34 L598.11 464.05 L598.79 464.76 L599.46 465.48 L600.13 466.20 L600.81 466.92 L601.48 467.64 L602.15 468.36 L602.82 469.09 L603.50 469.82 L604.17 470.55 L604.84 471.29 L605.51 472.02 L606.19 472.76 L606.86 473.50 L607.53 474.25 L608.21 474.99 L608.88 475.74 L609.55 476.49 L610.22 477.24 L610.90 478.00 L611.57 478.76 L612.24 479.52 L612.92 480.28 L613.59 481.04 L614.26 481.81 L614.93 482.58 L615.61 483.35 L616.28 484.13 L616.95 484.90 L617.63 485.68 L618.30 486.47 L618.97 487.25 L619.64 488.04 L620.32 488.83 L620.99 489.62 L621.66 490.41 L622.34 491.21 L623.01 492.01 L623.68 492.81 L624.35 493.62 L625.03 494.42 L625.70 495.23 L626.37 496.04 L627.05 496.86 L627.72 497.68 L628.39 498.50 L629.06 499.32 L629.74 500.14 L630.41 500.97 L631.08 501.80 L631.76 502.63 L632.43 503.47 L633.10 504.31 L633.77 505.15 L634.45 505.99 L635.12 506.84 L635.79 507.69 L636.47 508.54 L637.14 509.39 L637.81 510.25 L638.48 511.11 L639.16 511.97 L639.83 512.83 L640.50 513.70 L641.17 514.57 L641.85 515.45 L642.52 516.32 L643.19 517.20 L643.87 518.08 L644.54 518.97 L645.21 519.85 L645.88 520.74 L646.56 521.64 L647.23 522.53 L647.90 523.43 L648.58 524.33 L649.25 525.23 L649.92 526.14 L650.59 527.05 L651.27 527.96 L651.94 528.88 L652.61 529.80 L653.29 530.72 L653.96 531.64 L654.63 532.57 L655.30 533.50 L655.98 534.43 L656.65 535.37" fill="none" stroke="#6c6d6f" stroke-width="2.4" stroke-dasharray="3.40 9.04" stroke-dashoffset="12.11"/>
<path d="M124.30 434.94 L124.97 434.97 L125.63 435.00 L126.30 435.03 L126.96 435.06 L127.63 435.09 L128.29 435.11 L128.96 435.14 L129.62 435.17 L130.29 435.20 L130.95 435.23 L131.62 435.26 L132.29 435.29 L132.95 435.32 L133.62 435.35 L134.28 435.38 L134.95 435.41 L135.61 435.44 L136.28 435.47 L136.94 435.50 L137.61 435.53 L138.27 435.56 L138.94 435.59 L139.61 435.62 L140.27 435.65 L140.94 435.68 L141.60 435.71 L142.27 435.74 L142.93 435.77 L143.60 435.80 L144.26 435.83 L144.93 435.87 L145.59 435.90 L146.26 435.93 L146.92 435.96 L147.59 435.99 L148.26 436.02 L148.92 436.05 L149.59 436.09 L150.25 436.12 L150.92 436.15 L151.58 436.18 L152.25 436.22 L152.91 436.25 L153.58 436.28 L154.24 436.31 L154.91 436.35 L155.58 436.38 L156.24 436.41 L156.91 436.44 L157.57 436.48 L158.24 436.51 L158.90 436.54 L159.57 436.58 L160.23 436.61 L160.90 436.64 L161.56 436.68 L162.23 436.71 L162.90 436.75 L163.56 436.78 L164.23 436.81 L164.89 436.85 L165.56 436.88 L166.22 436.92 L166.89 436.95 L167.55 436.99 L168.22 437.02 L168.88 437.06 L169.55 437.09 L170.22 437.13 L170.88 437.16 L171.55 437.20 L172.21 437.23 L172.88 437.27 L173.54 437.30 L174.21 437.34 L174.87 437.37 L175.54 437.41 L176.20 437.45 L176.87 437.48 L177.53 437.52 L178.20 437.56 L178.87 437.59 L179.53 437.63 L180.20 437.67 L180.86 437.70 L181.53 437.74 L182.19 437.78 L182.86 437.81 L183.52 437.85 L184.19 437.89 L184.85 437.93 L185.52 437.96 L186.19 438.00 L186.85 438.04 L187.52 438.08 L188.18 438.12 L188.85 438.15 L189.51 438.19 L190.18 438.23 L190.84 438.27 L191.51 438.31 L192.17 438.35 L192.84 438.39 L193.51 438.43 L194.17 438.47 L194.84 438.51 L195.50 438.54 L196.17 438.58 L196.83 438.62 L197.50 438.66 L198.16 438.70 L198.83 438.74 L199.49 438.78 L200.16 438.82 L200.83 438.87 L201.49 438.91 L202.16 438.95 L202.82 438.99 L203.49 439.03 L204.15 439.07 L204.82 439.11 L205.48 439.15 L206.15 439.19 L206.81 439.24 L207.48 439.28 L208.15 439.32 L208.81 439.36 L209.48 439.40 L210.14 439.45 L210.81 439.49 L211.47 439.53 L212.14 439.57 L212.80 439.62 L213.47 439.66 L214.13 439.70 L214.80 439.75 L215.46 439.79 L216.13 439.83 L216.80 439.88 L217.46 439.92 L218.13 439.96 L218.79 440.01 L219.46 440.05 L220.12 440.10 L220.79 440.14 L221.45 440.19 L222.12 440.23 L222.78 440.28 L223.45 440.32 L224.12 440.37 L224.78 440.41 L225.45 440.46 L226.11 440.50 L226.78 440.55 L227.44 440.59 L228.11 440.64 L228.77 440.69 L229.44 440.73 L230.10 440.78 L230.77 440.83 L231.44 440.87 L232.10 440.92 L232.77 440.97 L233.43 441.01 L234.10 441.06 L234.76 441.11 L235.43 441.16 L236.09 441.20 L236.76 441.25 L237.42 441.30 L238.09 441.35 L238.76 441.40 L239.42 441.45 L240.09 441.49 L240.75 441.54 L241.42 441.59 L242.08 441.64 L242.75 441.69 L243.41 441.74 L244.08 441.79 L244.74 441.84 L245.41 441.89 L246.08 441.94 L246.74 441.99 L247.41 442.04 L248.07 442.09 L248.74 442.14 L249.40 442.19 L250.07 442.24 L250.73 442.30 L251.40 442.35 L252.06 442.40 L252.73 442.45 L253.39 442.50 L254.06 442.55 L254.73 442.61 L255.39 442.66 L256.06 442.71 L256.72 442.76 L257.39 442.82 L258.05 442.87 L258.72 442.92 L259.38 442.98 L260.05 443.03 L260.71 443.08 L261.38 443.14 L262.05 443.19 L262.71 443.24 L263.38 443.30 L264.04 443.35 L264.71 443.41 L265.37 443.46 L266.04 443.52 L266.70 443.57 L267.37 443.63 L268.03 443.68 L268.70 443.74 L269.37 443.80 L270.03 443.85 L270.70 443.91 L271.36 443.96 L272.03 444.02 L272.69 444.08 L273.36 444.13 L274.02 444.19 L274.69 444.25 L275.35 444.31 L276.02 444.36 L276.69 444.42 L277.35 444.48 L278.02 444.54 L278.68 444.60 L279.35 444.66 L280.01 444.71 L280.68 444.77 L281.34 444.83 L282.01 444.89 L282.67 444.95 L283.34 445.01 L284.00 445.07 L284.67 445.13 L285.34 445.19 L286.00 445.25 L286.67 445.31 L287.33 445.37 L288.00 445.43 L288.66 445.49 L289.33 445.56 L289.99 445.62 L290.66 445.68 L291.32 445.74 L291.99 445.80 L292.66 445.87 L293.32 445.93 L293.99 445.99 L294.65 446.05 L295.32 446.12 L295.98 446.18 L296.65 446.24 L297.31 446.31 L297.98 446.37 L298.64 446.43 L299.31 446.50 L299.98 446.56 L300.64 446.63 L301.31 446.69 L301.97 446.76 L302.64 446.82 L303.30 446.89 L303.97 446.95 L304.63 447.02 L305.30 447.09 L305.96 447.15 L306.63 447.22 L307.30 447.29 L307.96 447.35 L308.63 447.42 L309.29 447.49 L309.96 447.56 L310.62 447.62 L311.29 447.69 L311.95 447.76 L312.62 447.83 L313.28 447.90 L313.95 447.97 L314.62 448.03 L315.28 448.10 L315.95 448.17 L316.61 448.24 L317.28 448.31 L317.94 448.38 L318.61 448.45 L319.27 448.52 L319.94 448.60 L320.60 448.67 L321.27 448.74 L321.93 448.81 L322.60 448.88 L323.27 448.95 L323.93 449.02 L324.60 449.10 L325.26 449.17 L325.93 449.24 L326.59 449.32 L327.26 449.39 L327.92 449.46 L328.59 449.54 L329.25 449.61 L329.92 449.68 L330.59 449.76 L331.25 449.83 L331.92 449.91 L332.58 449.98 L333.25 450.06 L333.91 450.13 L334.58 450.21 L335.24 450.29 L335.91 450.36 L336.57 450.44 L337.24 450.52 L337.91 450.59 L338.57 450.67 L339.24 450.75 L339.90 450.83 L340.57 450.90 L341.23 450.98 L341.90 451.06 L342.56 451.14 L343.23 451.22 L343.89 451.30 L344.56 451.38 L345.23 451.46 L345.89 451.54 L346.56 451.62 L347.22 451.70 L347.89 451.78 L348.55 451.86 L349.22 451.94 L349.88 452.02 L350.55 452.10 L351.21 452.19 L351.88 452.27 L352.55 452.35 L353.21 452.43 L353.88 452.52 L354.54 452.60 L355.21 452.68 L355.87 452.77 L356.54 452.85 L357.20 452.93 L357.87 453.02 L358.53 453.10 L359.20 453.19 L359.86 453.27 L360.53 453.36 L361.20 453.45 L361.86 453.53 L362.53 453.62 L363.19 453.71 L363.86 453.79 L364.52 453.88 L365.19 453.97 L365.85 454.06 L366.52 454.14 L367.18 454.23 L367.85 454.32 L368.52 454.41 L369.18 454.50 L369.85 454.59 L370.51 454.68 L371.18 454.77 L371.84 454.86 L372.51 454.95 L373.17 455.04 L373.84 455.13 L374.50 455.22 L375.17 455.31 L375.84 455.41 L376.50 455.50 L377.17 455.59 L377.83 455.68 L378.50 455.78 L379.16 455.87 L379.83 455.96 L380.49 456.06 L381.16 456.15 L381.82 456.25 L382.49 456.34 L383.16 456.44 L383.82 456.53 L384.49 456.63 L385.15 456.72 L385.82 456.82 L386.48 456.92 L387.15 457.02 L387.81 457.11 L388.48 457.21 L389.14 457.31 L389.81 457.41 L390.48 457.50 L391.14 457.60 L391.81 457.70 L392.47 457.80 L393.14 457.90 L393.80 458.00 L394.47 458.10 L395.13 458.20 L395.80 458.30 L396.46 458.41 L397.13 458.51 L397.79 458.61 L398.46 458.71 L399.13 458.81 L399.79 458.92 L400.46 459.02 L401.12 459.12 L401.79 459.23 L402.45 459.33 L403.12 459.44 L403.78 459.54 L404.45 459.65 L405.11 459.75 L405.78 459.86 L406.45 459.96 L407.11 460.07 L407.78 460.18 L408.44 460.29 L409.11 460.39 L409.77 460.50 L410.44 460.61 L411.10 460.72 L411.77 460.83 L412.43 460.94 L413.10 461.05 L413.77 461.16 L414.43 461.27 L415.10 461.38 L415.76 461.49 L416.43 461.60 L417.09 461.71 L417.76 461.82 L418.42 461.93 L419.09 462.05 L419.75 462.16 L420.42 462.27 L421.09 462.39 L421.75 462.50 L422.42 462.62 L423.08 462.73 L423.75 462.85 L424.41 462.96 L425.08 463.08 L425.74 463.19 L426.41 463.31 L427.07 463.43 L427.74 463.54 L428.40 463.66 L429.07 463.78 L429.74 463.90 L430.40 464.02 L431.07 464.14 L431.73 464.26 L432.40 464.38 L433.06 464.50 L433.73 464.62 L434.39 464.74 L435.06 464.86 L435.72 464.98 L436.39 465.10 L437.06 465.23 L437.72 465.35 L438.39 465.47 L439.05 465.60 L439.72 465.72 L440.38 465.85 L441.05 465.97 L441.71 466.10 L442.38 466.22 L443.04 466.35 L443.71 466.47 L444.38 466.60 L445.04 466.73 L445.71 466.86 L446.37 466.98 L447.04 467.11 L447.70 467.24 L448.37 467.37 L449.03 467.50 L449.70 467.63 L450.36 467.76 L451.03 467.89 L451.70 468.02 L452.36 468.15 L453.03 468.29 L453.69 468.42 L454.36 468.55 L455.02 468.69 L455.69 468.82 L456.35 468.95 L457.02 469.09 L457.68 469.22 L458.35 469.36 L459.02 469.49 L459.68 469.63 L460.35 469.77 L461.01 469.90 L461.68 470.04 L462.34 470.18 L463.01 470.32 L463.67 470.46 L464.34 470.60 L465.00 470.74 L465.67 470.88 L466.33 471.02 L467.00 471.16 L467.67 471.30 L468.33 471.44 L469.00 471.58 L469.66 471.73 L470.33 471.87 L470.99 472.01 L471.66 472.16 L472.32 472.30 L472.99 472.45 L473.65 472.59 L474.32 472.74 L474.99 472.89 L475.65 473.03 L476.32 473.18 L476.98 473.33 L477.65 473.48 L478.31 473.62 L478.98 473.77 L479.64 473.92 L480.31 474.07 L480.97 474.22 L481.64 474.38 L482.31 474.53 L482.97 474.68 L483.64 474.83 L484.30 474.98 L484.97 475.14 L485.63 475.29 L486.30 475.45 L486.96 475.60 L487.63 475.76 L488.29 475.91 L488.96 476.07 L489.63 476.23 L490.29 476.38 L490.96 476.54 L491.62 476.70 L492.29 476.86 L492.95 477.02 L493.62 477.18 L494.28 477.34 L494.95 477.50 L495.61 477.66 L496.28 477.82 L496.94 477.98 L497.61 478.15 L498.28 478.31 L498.94 478.47 L499.61 478.64 L500.27 478.80 L500.94 478.97 L501.60 479.13 L502.27 479.30 L502.93 479.47 L503.60 479.63 L504.26 479.80 L504.93 479.97 L505.60 480.14 L506.26 480.31 L506.93 480.48 L507.59 480.65 L508.26 480.82 L508.92 480.99 L509.59 481.17 L510.25 481.34 L510.92 481.51 L511.58 481.68 L512.25 481.86 L512.92 482.03 L513.58 482.21 L514.25 482.39 L514.91 482.56 L515.58 482.74 L516.24 482.92 L516.91 483.10 L517.57 483.27 L518.24 483.45 L518.90 483.63 L519.57 483.81 L520.24 483.99 L520.90 484.18 L521.57 484.36 L522.23 484.54 L522.90 484.72 L523.56 484.91 L524.23 485.09 L524.89 485.28 L525.56 485.46 L526.22 485.65 L526.89 485.84 L527.56 486.02 L528.22 486.21 L528.89 486.40 L529.55 486.59 L530.22 486.78 L530.88 486.97 L531.55 487.16 L532.21 487.35 L532.88 487.54 L533.54 487.74 L534.21 487.93 L534.87 488.12 L535.54 488.32 L536.21 488.51 L536.87 488.71 L537.54 488.90 L538.20 489.10 L538.87 489.30 L539.53 489.50 L540.20 489.70 L540.86 489.90 L541.53 490.10 L542.19 490.30 L542.86 490.50 L543.53 490.70 L544.19 490.90 L544.86 491.11 L545.52 491.31 L546.19 491.51 L546.85 491.72 L547.52 491.92 L548.18 492.13 L548.85 492.34 L549.51 492.55 L550.18 492.75 L550.85 492.96 L551.51 493.17 L552.18 493.38 L552.84 493.59 L553.51 493.80 L554.17 494.02 L554.84 494.23 L555.50 494.44 L556.17 494.66 L556.83 494.87 L557.50 495.09 L558.17 495.30 L558.83 495.52 L559.50 495.74 L560.16 495.96 L560.83 496.18 L561.49 496.40 L562.16 496.62 L562.82 496.84 L563.49 497.06 L564.15 497.28 L564.82 497.50 L565.49 497.73 L566.15 497.95 L566.82 498.18 L567.48 498.40 L568.15 498.63 L568.81 498.86 L569.48 499.09 L570.14 499.31 L570.81 499.54 L571.47 499.77 L572.14 500.00 L572.80 500.24 L573.47 500.47 L574.14 500.70 L574.80 500.93 L575.47 501.17 L576.13 501.40 L576.80 501.64 L577.46 501.88 L578.13 502.11 L578.79 502.35 L579.46 502.59 L580.12 502.83 L580.79 503.07 L581.46 503.31 L582.12 503.55 L582.79 503.80 L583.45 504.04 L584.12 504.29 L584.78 504.53 L585.45 504.78 L586.11 505.02 L586.78 505.27 L587.44 505.52 L588.11 505.77 L588.78 506.02 L589.44 506.27 L590.11 506.52 L590.77 506.77 L591.44 507.02 L592.10 507.28 L592.77 507.53 L593.43 507.78 L594.10 508.04 L594.76 508.30 L595.43 508.55 L596.10 508.81 L596.76 509.07 L597.43 509.33 L598.09 509.59 L598.76 509.85 L599.42 510.12 L600.09 510.38 L600.75 510.64 L601.42 510.91 L602.08 511.17 L602.75 511.44 L603.41 511.71 L604.08 511.98 L604.75 512.25 L605.41 512.52 L606.08 512.79 L606.74 513.06 L607.41 513.33 L608.07 513.60 L608.74 513.88 L609.40 514.15 L610.07 514.43 L610.73 514.70 L611.40 514.98 L612.07 515.26 L612.73 515.54 L613.40 515.82 L614.06 516.10 L614.73 516.38 L615.39 516.66 L616.06 516.95 L616.72 517.23 L617.39 517.52 L618.05 517.80 L618.72 518.09 L619.39 518.38 L620.05 518.67 L620.72 518.96 L621.38 519.25 L622.05 519.54 L622.71 519.83 L623.38 520.13 L624.04 520.42 L624.71 520.72 L625.37 521.01 L626.04 521.31 L626.71 521.61 L627.37 521.91 L628.04 522.21 L628.70 522.51 L629.37 522.81 L630.03 523.11 L630.70 523.42 L631.36 523.72 L632.03 524.03 L632.69 524.33 L633.36 524.64 L634.03 524.95 L634.69 525.26 L635.36 525.57 L636.02 525.88 L636.69 526.19 L637.35 526.51 L638.02 526.82 L638.68 527.14 L639.35 527.45 L640.01 527.77 L640.68 528.09 L641.34 528.41 L642.01 528.73 L642.68 529.05 L643.34 529.37 L644.01 529.69 L644.67 530.02 L645.34 530.34 L646.00 530.67 L646.67 531.00 L647.33 531.33 L648.00 531.66 L648.66 531.99 L649.33 532.32 L650.00 532.65 L650.66 532.98 L651.33 533.32 L651.99 533.65 L652.66 533.99 L653.32 534.33 L653.99 534.67 L654.65 535.01 L655.32 535.35 L655.98 535.69 L656.65 536.03" fill="none" stroke="#6c6d6f" stroke-width="2.4" stroke-dasharray="3.40 9.04" stroke-dashoffset="4.15"/>
<path d="M124.30 521.19 L124.97 521.20 L125.63 521.20 L126.30 521.21 L126.96 521.21 L127.63 521.21 L128.29 521.22 L128.96 521.22 L129.62 521.23 L130.29 521.23 L130.95 521.23 L131.62 521.24 L132.29 521.24 L132.95 521.25 L133.62 521.25 L134.28 521.25 L134.95 521.26 L135.61 521.26 L136.28 521.27 L136.94 521.27 L137.61 521.28 L138.27 521.28 L138.94 521.28 L139.61 521.29 L140.27 521.29 L140.94 521.30 L141.60 521.30 L142.27 521.31 L142.93 521.31 L143.60 521.31 L144.26 521.32 L144.93 521.32 L145.59 521.33 L146.26 521.33 L146.92 521.34 L147.59 521.34 L148.26 521.35 L148.92 521.35 L149.59 521.35 L150.25 521.36 L150.92 521.36 L151.58 521.37 L152.25 521.37 L152.91 521.38 L153.58 521.38 L154.24 521.39 L154.91 521.39 L155.58 521.40 L156.24 521.40 L156.91 521.40 L157.57 521.41 L158.24 521.41 L158.90 521.42 L159.57 521.42 L160.23 521.43 L160.90 521.43 L161.56 521.44 L162.23 521.44 L162.90 521.45 L163.56 521.45 L164.23 521.46 L164.89 521.46 L165.56 521.47 L166.22 521.47 L166.89 521.48 L167.55 521.48 L168.22 521.49 L168.88 521.49 L169.55 521.50 L170.22 521.50 L170.88 521.51 L171.55 521.51 L172.21 521.52 L172.88 521.52 L173.54 521.53 L174.21 521.53 L174.87 521.54 L175.54 521.54 L176.20 521.55 L176.87 521.55 L177.53 521.56 L178.20 521.56 L178.87 521.57 L179.53 521.57 L180.20 521.58 L180.86 521.58 L181.53 521.59 L182.19 521.59 L182.86 521.60 L183.52 521.60 L184.19 521.61 L184.85 521.61 L185.52 521.62 L186.19 521.62 L186.85 521.63 L187.52 521.63 L188.18 521.64 L188.85 521.65 L189.51 521.65 L190.18 521.66 L190.84 521.66 L191.51 521.67 L192.17 521.67 L192.84 521.68 L193.51 521.68 L194.17 521.69 L194.84 521.70 L195.50 521.70 L196.17 521.71 L196.83 521.71 L197.50 521.72 L198.16 521.72 L198.83 521.73 L199.49 521.73 L200.16 521.74 L200.83 521.75 L201.49 521.75 L202.16 521.76 L202.82 521.76 L203.49 521.77 L204.15 521.77 L204.82 521.78 L205.48 521.79 L206.15 521.79 L206.81 521.80 L207.48 521.80 L208.15 521.81 L208.81 521.82 L209.48 521.82 L210.14 521.83 L210.81 521.83 L211.47 521.84 L212.14 521.85 L212.80 521.85 L213.47 521.86 L214.13 521.86 L214.80 521.87 L215.46 521.88 L216.13 521.88 L216.80 521.89 L217.46 521.89 L218.13 521.90 L218.79 521.91 L219.46 521.91 L220.12 521.92 L220.79 521.93 L221.45 521.93 L222.12 521.94 L222.78 521.94 L223.45 521.95 L224.12 521.96 L224.78 521.96 L225.45 521.97 L226.11 521.98 L226.78 521.98 L227.44 521.99 L228.11 522.00 L228.77 522.00 L229.44 522.01 L230.10 522.02 L230.77 522.02 L231.44 522.03 L232.10 522.04 L232.77 522.04 L233.43 522.05 L234.10 522.06 L234.76 522.06 L235.43 522.07 L236.09 522.08 L236.76 522.08 L237.42 522.09 L238.09 522.10 L238.76 522.10 L239.42 522.11 L240.09 522.12 L240.75 522.12 L241.42 522.13 L242.08 522.14 L242.75 522.14 L243.41 522.15 L244.08 522.16 L244.74 522.16 L245.41 522.17 L246.08 522.18 L246.74 522.19 L247.41 522.19 L248.07 522.20 L248.74 522.21 L249.40 522.21 L250.07 522.22 L250.73 522.23 L251.40 522.24 L252.06 522.24 L252.73 522.25 L253.39 522.26 L254.06 522.27 L254.73 522.27 L255.39 522.28 L256.06 522.29 L256.72 522.30 L257.39 522.30 L258.05 522.31 L258.72 522.32 L259.38 522.33 L260.05 522.33 L260.71 522.34 L261.38 522.35 L262.05 522.36 L262.71 522.36 L263.38 522.37 L264.04 522.38 L264.71 522.39 L265.37 522.39 L266.04 522.40 L266.70 522.41 L267.37 522.42 L268.03 522.42 L268.70 522.43 L269.37 522.44 L270.03 522.45 L270.70 522.46 L271.36 522.46 L272.03 522.47 L272.69 522.48 L273.36 522.49 L274.02 522.50 L274.69 522.50 L275.35 522.51 L276.02 522.52 L276.69 522.53 L277.35 522.54 L278.02 522.55 L278.68 522.55 L279.35 522.56 L280.01 522.57 L280.68 522.58 L281.34 522.59 L282.01 522.59 L282.67 522.60 L283.34 522.61 L284.00 522.62 L284.67 522.63 L285.34 522.64 L286.00 522.65 L286.67 522.65 L287.33 522.66 L288.00 522.67 L288.66 522.68 L289.33 522.69 L289.99 522.70 L290.66 522.71 L291.32 522.71 L291.99 522.72 L292.66 522.73 L293.32 522.74 L293.99 522.75 L294.65 522.76 L295.32 522.77 L295.98 522.78 L296.65 522.79 L297.31 522.79 L297.98 522.80 L298.64 522.81 L299.31 522.82 L299.98 522.83 L300.64 522.84 L301.31 522.85 L301.97 522.86 L302.64 522.87 L303.30 522.88 L303.97 522.89 L304.63 522.90 L305.30 522.90 L305.96 522.91 L306.63 522.92 L307.30 522.93 L307.96 522.94 L308.63 522.95 L309.29 522.96 L309.96 522.97 L310.62 522.98 L311.29 522.99 L311.95 523.00 L312.62 523.01 L313.28 523.02 L313.95 523.03 L314.62 523.04 L315.28 523.05 L315.95 523.06 L316.61 523.07 L317.28 523.08 L317.94 523.09 L318.61 523.10 L319.27 523.11 L319.94 523.12 L320.60 523.13 L321.27 523.14 L321.93 523.15 L322.60 523.16 L323.27 523.17 L323.93 523.18 L324.60 523.19 L325.26 523.20 L325.93 523.21 L326.59 523.22 L327.26 523.23 L327.92 523.24 L328.59 523.25 L329.25 523.26 L329.92 523.27 L330.59 523.28 L331.25 523.29 L331.92 523.30 L332.58 523.31 L333.25 523.32 L333.91 523.33 L334.58 523.34 L335.24 523.36 L335.91 523.37 L336.57 523.38 L337.24 523.39 L337.91 523.40 L338.57 523.41 L339.24 523.42 L339.90 523.43 L340.57 523.44 L341.23 523.45 L341.90 523.46 L342.56 523.48 L343.23 523.49 L343.89 523.50 L344.56 523.51 L345.23 523.52 L345.89 523.53 L346.56 523.54 L347.22 523.55 L347.89 523.57 L348.55 523.58 L349.22 523.59 L349.88 523.60 L350.55 523.61 L351.21 523.62 L351.88 523.63 L352.55 523.65 L353.21 523.66 L353.88 523.67 L354.54 523.68 L355.21 523.69 L355.87 523.70 L356.54 523.72 L357.20 523.73 L357.87 523.74 L358.53 523.75 L359.20 523.76 L359.86 523.78 L360.53 523.79 L361.20 523.80 L361.86 523.81 L362.53 523.82 L363.19 523.84 L363.86 523.85 L364.52 523.86 L365.19 523.87 L365.85 523.89 L366.52 523.90 L367.18 523.91 L367.85 523.92 L368.52 523.94 L369.18 523.95 L369.85 523.96 L370.51 523.97 L371.18 523.99 L371.84 524.00 L372.51 524.01 L373.17 524.03 L373.84 524.04 L374.50 524.05 L375.17 524.06 L375.84 524.08 L376.50 524.09 L377.17 524.10 L377.83 524.12 L378.50 524.13 L379.16 524.14 L379.83 524.16 L380.49 524.17 L381.16 524.18 L381.82 524.20 L382.49 524.21 L383.16 524.22 L383.82 524.24 L384.49 524.25 L385.15 524.26 L385.82 524.28 L386.48 524.29 L387.15 524.30 L387.81 524.32 L388.48 524.33 L389.14 524.34 L389.81 524.36 L390.48 524.37 L391.14 524.39 L391.81 524.40 L392.47 524.41 L393.14 524.43 L393.80 524.44 L394.47 524.46 L395.13 524.47 L395.80 524.49 L396.46 524.50 L397.13 524.51 L397.79 524.53 L398.46 524.54 L399.13 524.56 L399.79 524.57 L400.46 524.59 L401.12 524.60 L401.79 524.62 L402.45 524.63 L403.12 524.64 L403.78 524.66 L404.45 524.67 L405.11 524.69 L405.78 524.70 L406.45 524.72 L407.11 524.73 L407.78 524.75 L408.44 524.76 L409.11 524.78 L409.77 524.79 L410.44 524.81 L411.10 524.83 L411.77 524.84 L412.43 524.86 L413.10 524.87 L413.77 524.89 L414.43 524.90 L415.10 524.92 L415.76 524.93 L416.43 524.95 L417.09 524.97 L417.76 524.98 L418.42 525.00 L419.09 525.01 L419.75 525.03 L420.42 525.04 L421.09 525.06 L421.75 525.08 L422.42 525.09 L423.08 525.11 L423.75 525.13 L424.41 525.14 L425.08 525.16 L425.74 525.17 L426.41 525.19 L427.07 525.21 L427.74 525.22 L428.40 525.24 L429.07 525.26 L429.74 525.27 L430.40 525.29 L431.07 525.31 L431.73 525.32 L432.40 525.34 L433.06 525.36 L433.73 525.37 L434.39 525.39 L435.06 525.41 L435.72 525.43 L436.39 525.44 L437.06 525.46 L437.72 525.48 L438.39 525.50 L439.05 525.51 L439.72 525.53 L440.38 525.55 L441.05 525.57 L441.71 525.58 L442.38 525.60 L443.04 525.62 L443.71 525.64 L444.38 525.65 L445.04 525.67 L445.71 525.69 L446.37 525.71 L447.04 525.73 L447.70 525.74 L448.37 525.76 L449.03 525.78 L449.70 525.80 L450.36 525.82 L451.03 525.84 L451.70 525.85 L452.36 525.87 L453.03 525.89 L453.69 525.91 L454.36 525.93 L455.02 525.95 L455.69 525.97 L456.35 525.99 L457.02 526.00 L457.68 526.02 L458.35 526.04 L459.02 526.06 L459.68 526.08 L460.35 526.10 L461.01 526.12 L461.68 526.14 L462.34 526.16 L463.01 526.18 L463.67 526.20 L464.34 526.22 L465.00 526.24 L465.67 526.26 L466.33 526.28 L467.00 526.30 L467.67 526.32 L468.33 526.34 L469.00 526.36 L469.66 526.38 L470.33 526.40 L470.99 526.42 L471.66 526.44 L472.32 526.46 L472.99 526.48 L473.65 526.50 L474.32 526.52 L474.99 526.54 L475.65 526.56 L476.32 526.58 L476.98 526.60 L477.65 526.62 L478.31 526.64 L478.98 526.67 L479.64 526.69 L480.31 526.71 L480.97 526.73 L481.64 526.75 L482.31 526.77 L482.97 526.79 L483.64 526.81 L484.30 526.84 L484.97 526.86 L485.63 526.88 L486.30 526.90 L486.96 526.92 L487.63 526.94 L488.29 526.97 L488.96 526.99 L489.63 527.01 L490.29 527.03 L490.96 527.06 L491.62 527.08 L492.29 527.10 L492.95 527.12 L493.62 527.14 L494.28 527.17 L494.95 527.19 L495.61 527.21 L496.28 527.24 L496.94 527.26 L497.61 527.28 L498.28 527.30 L498.94 527.33 L499.61 527.35 L500.27 527.37 L500.94 527.40 L501.60 527.42 L502.27 527.44 L502.93 527.47 L503.60 527.49 L504.26 527.51 L504.93 527.54 L505.60 527.56 L506.26 527.59 L506.93 527.61 L507.59 527.63 L508.26 527.66 L508.92 527.68 L509.59 527.71 L510.25 527.73 L510.92 527.76 L511.58 527.78 L512.25 527.80 L512.92 527.83 L513.58 527.85 L514.25 527.88 L514.91 527.90 L515.58 527.93 L516.24 527.95 L516.91 527.98 L517.57 528.00 L518.24 528.03 L518.90 528.05 L519.57 528.08 L520.24 528.11 L520.90 528.13 L521.57 528.16 L522.23 528.18 L522.90 528.21 L523.56 528.23 L524.23 528.26 L524.89 528.29 L525.56 528.31 L526.22 528.34 L526.89 528.37 L527.56 528.39 L528.22 528.42 L528.89 528.44 L529.55 528.47 L530.22 528.50 L530.88 528.52 L531.55 528.55 L532.21 528.58 L532.88 528.61 L533.54 528.63 L534.21 528.66 L534.87 528.69 L535.54 528.71 L536.21 528.74 L536.87 528.77 L537.54 528.80 L538.20 528.83 L538.87 528.85 L539.53 528.88 L540.20 528.91 L540.86 528.94 L541.53 528.97 L542.19 528.99 L542.86 529.02 L543.53 529.05 L544.19 529.08 L544.86 529.11 L545.52 529.14 L546.19 529.17 L546.85 529.19 L547.52 529.22 L548.18 529.25 L548.85 529.28 L549.51 529.31 L550.18 529.34 L550.85 529.37 L551.51 529.40 L552.18 529.43 L552.84 529.46 L553.51 529.49 L554.17 529.52 L554.84 529.55 L555.50 529.58 L556.17 529.61 L556.83 529.64 L557.50 529.67 L558.17 529.70 L558.83 529.73 L559.50 529.76 L560.16 529.79 L560.83 529.82 L561.49 529.85 L562.16 529.88 L562.82 529.92 L563.49 529.95 L564.15 529.98 L564.82 530.01 L565.49 530.04 L566.15 530.07 L566.82 530.10 L567.48 530.14 L568.15 530.17 L568.81 530.20 L569.48 530.23 L570.14 530.26 L570.81 530.30 L571.47 530.33 L572.14 530.36 L572.80 530.39 L573.47 530.43 L574.14 530.46 L574.80 530.49 L575.47 530.53 L576.13 530.56 L576.80 530.59 L577.46 530.63 L578.13 530.66 L578.79 530.69 L579.46 530.73 L580.12 530.76 L580.79 530.79 L581.46 530.83 L582.12 530.86 L582.79 530.90 L583.45 530.93 L584.12 530.96 L584.78 531.00 L585.45 531.03 L586.11 531.07 L586.78 531.10 L587.44 531.14 L588.11 531.17 L588.78 531.21 L589.44 531.24 L590.11 531.28 L590.77 531.31 L591.44 531.35 L592.10 531.39 L592.77 531.42 L593.43 531.46 L594.10 531.49 L594.76 531.53 L595.43 531.57 L596.10 531.60 L596.76 531.64 L597.43 531.68 L598.09 531.71 L598.76 531.75 L599.42 531.79 L600.09 531.82 L600.75 531.86 L601.42 531.90 L602.08 531.94 L602.75 531.97 L603.41 532.01 L604.08 532.05 L604.75 532.09 L605.41 532.12 L606.08 532.16 L606.74 532.20 L607.41 532.24 L608.07 532.28 L608.74 532.32 L609.40 532.36 L610.07 532.39 L610.73 532.43 L611.40 532.47 L612.07 532.51 L612.73 532.55 L613.40 532.59 L614.06 532.63 L614.73 532.67 L615.39 532.71 L616.06 532.75 L616.72 532.79 L617.39 532.83 L618.05 532.87 L618.72 532.91 L619.39 532.95 L620.05 532.99 L620.72 533.03 L621.38 533.07 L622.05 533.11 L622.71 533.16 L623.38 533.20 L624.04 533.24 L624.71 533.28 L625.37 533.32 L626.04 533.36 L626.71 533.41 L627.37 533.45 L628.04 533.49 L628.70 533.53 L629.37 533.58 L630.03 533.62 L630.70 533.66 L631.36 533.70 L632.03 533.75 L632.69 533.79 L633.36 533.83 L634.03 533.88 L634.69 533.92 L635.36 533.96 L636.02 534.01 L636.69 534.05 L637.35 534.10 L638.02 534.14 L638.68 534.19 L639.35 534.23 L640.01 534.27 L640.68 534.32 L641.34 534.36 L642.01 534.41 L642.68 534.45 L643.34 534.50 L644.01 534.55 L644.67 534.59 L645.34 534.64 L646.00 534.68 L646.67 534.73 L647.33 534.78 L648.00 534.82 L648.66 534.87 L649.33 534.92 L650.00 534.96 L650.66 535.01 L651.33 535.06 L651.99 535.10 L652.66 535.15 L653.32 535.20 L653.99 535.25 L654.65 535.29 L655.32 535.34 L655.98 535.39 L656.65 535.44" fill="none" stroke="#6c6d6f" stroke-width="2.4" stroke-dasharray="3.40 9.00" stroke-dashoffset="4.78"/>
<rect x="124.3" y="525.5" width="532.6" height="19.9" fill="#d0d0d0" fill-opacity="0.75"/>
<circle cx="550.25" cy="534.1" r="3.6" fill="#b792d0" fill-opacity="0.8"/>
<path d="M124.30 532.53 L129.62 532.54 L134.95 532.55 L140.27 532.55 L145.59 532.56 L150.92 532.57 L156.24 532.57 L161.56 532.58 L166.89 532.59 L172.21 532.60 L177.53 532.60 L182.86 532.61 L188.18 532.62 L193.51 532.63 L198.83 532.64 L204.15 532.65 L209.48 532.66 L214.80 532.67 L220.12 532.68 L225.45 532.69 L230.77 532.70 L236.09 532.71 L241.42 532.72 L246.74 532.73 L252.06 532.74 L257.39 532.75 L262.71 532.76 L268.03 532.78 L273.36 532.79 L278.68 532.80 L284.00 532.82 L289.33 532.83 L294.65 532.84 L299.98 532.86 L305.30 532.87 L310.62 532.89 L315.95 532.90 L321.27 532.92 L326.59 532.94 L331.92 532.95 L337.24 532.97 L342.56 532.99 L347.89 533.00 L353.21 533.02 L358.53 533.04 L363.86 533.06 L369.18 533.08 L374.50 533.10 L379.83 533.12 L385.15 533.14 L390.48 533.16 L395.80 533.19 L401.12 533.21 L406.45 533.23 L411.77 533.26 L417.09 533.28 L422.42 533.31 L427.74 533.33 L433.06 533.36 L438.39 533.39 L443.71 533.42 L449.03 533.45 L454.36 533.47 L459.68 533.50 L465.00 533.54 L470.33 533.57 L475.65 533.60 L480.97 533.63 L486.30 533.67 L491.62 533.70 L496.94 533.74 L502.27 533.78 L507.59 533.81 L512.92 533.85 L518.24 533.89 L523.56 533.93 L528.89 533.98 L534.21 534.02 L539.53 534.06 L544.86 534.11 L550.18 534.15 L555.50 534.20 L560.83 534.25 L566.15 534.30 L571.47 534.35 L576.80 534.40 L582.12 534.46 L587.44 534.51 L592.77 534.57 L598.09 534.63 L603.41 534.69 L608.74 534.75 L614.06 534.81 L619.39 534.87 L624.71 534.94 L630.03 535.01 L635.36 535.07 L640.68 535.14 L646.00 535.22 L651.33 535.29 L656.65 535.37" fill="none" stroke="#000" stroke-width="2.6"/>
<rect x="115.8" y="32.8" width="16.4" height="16.4" fill="#8e6db2" stroke="#71439f" stroke-width="1.5"/>
<circle cx="124.20" cy="522.60" r="8.20" fill="#00a089" stroke="#000" stroke-width="1.8"/>
<circle cx="124.20" cy="524.80" r="8.20" fill="#eeab21" stroke="#000" stroke-width="1.8"/>
<circle cx="124.30" cy="535.40" r="8.20" fill="#ec1c24" stroke="#000" stroke-width="1.8"/>
<circle cx="457.30" cy="525.60" r="8.20" fill="#eeab21" stroke="#000" stroke-width="1.8"/>
<circle cx="472.00" cy="535.80" r="8.20" fill="#ec1c24" stroke="#000" stroke-width="1.8"/>
<circle cx="565.80" cy="542.20" r="8.20" fill="#00a089" stroke="#000" stroke-width="1.8"/>
<circle cx="565.80" cy="535.00" r="8.20" fill="#00a089" stroke="#000" stroke-width="1.8"/>
<circle cx="565.80" cy="531.20" r="8.20" fill="#00a089" stroke="#000" stroke-width="1.8"/>
<path d="M97.5 0 V571.2 H683.6 V0" fill="none" stroke="#231f20" stroke-width="3.0"/>
<rect x="96" y="0" width="589" height="2.8" fill="#231f20"/>
<rect x="89.2" y="519.10" width="7" height="3.2" fill="#231f20"/>
<text x="85.5" y="525.40" text-anchor="end" font-size="18.9" fill="#231f20" font-family="Liberation Sans">0</text>
<rect x="89.2" y="469.80" width="7" height="3.2" fill="#231f20"/>
<text x="85.5" y="476.10" text-anchor="end" font-size="18.9" fill="#231f20" font-family="Liberation Sans">200</text>
<rect x="89.2" y="420.50" width="7" height="3.2" fill="#231f20"/>
<text x="85.5" y="426.80" text-anchor="end" font-size="18.9" fill="#231f20" font-family="Liberation Sans">400</text>
<rect x="89.2" y="371.20" width="7" height="3.2" fill="#231f20"/>
<text x="85.5" y="377.50" text-anchor="end" font-size="18.9" fill="#231f20" font-family="Liberation Sans">600</text>
<rect x="89.2" y="321.90" width="7" height="3.2" fill="#231f20"/>
<text x="85.5" y="328.20" text-anchor="end" font-size="18.9" fill="#231f20" font-family="Liberation Sans">800</text>
<rect x="89.2" y="272.60" width="7" height="3.2" fill="#231f20"/>
<text x="85.5" y="278.90" text-anchor="end" font-size="18.9" fill="#231f20" font-family="Liberation Sans">1000</text>
<rect x="89.2" y="223.30" width="7" height="3.2" fill="#231f20"/>
<text x="85.5" y="229.60" text-anchor="end" font-size="18.9" fill="#231f20" font-family="Liberation Sans">1200</text>
<rect x="89.2" y="174.00" width="7" height="3.2" fill="#231f20"/>
<text x="85.5" y="180.30" text-anchor="end" font-size="18.9" fill="#231f20" font-family="Liberation Sans">1400</text>
<rect x="89.2" y="124.70" width="7" height="3.2" fill="#231f20"/>
<text x="85.5" y="131.00" text-anchor="end" font-size="18.9" fill="#231f20" font-family="Liberation Sans">1600</text>
<rect x="89.2" y="75.40" width="7" height="3.2" fill="#231f20"/>
<text x="85.5" y="81.70" text-anchor="end" font-size="18.9" fill="#231f20" font-family="Liberation Sans">1800</text>
<rect x="89.2" y="26.10" width="7" height="3.2" fill="#231f20"/>
<text x="85.5" y="32.40" text-anchor="end" font-size="18.9" fill="#231f20" font-family="Liberation Sans">2000</text>
<rect x="122.70" y="571" width="3.2" height="5.7" fill="#231f20"/>
<text x="124.30" y="598" text-anchor="middle" font-size="18.9" fill="#231f20" font-family="Liberation Sans">0</text>
<rect x="241.00" y="571" width="3.2" height="5.7" fill="#231f20"/>
<text x="240.30" y="598" text-anchor="middle" font-size="18.9" fill="#231f20" font-family="Liberation Sans">1.0</text>
<rect x="359.30" y="571" width="3.2" height="5.7" fill="#231f20"/>
<text x="360.90" y="598" text-anchor="middle" font-size="18.9" fill="#231f20" font-family="Liberation Sans">2.0</text>
<rect x="477.60" y="571" width="3.2" height="5.7" fill="#231f20"/>
<text x="479.20" y="598" text-anchor="middle" font-size="18.9" fill="#231f20" font-family="Liberation Sans">3.0</text>
<rect x="595.90" y="571" width="3.2" height="5.7" fill="#231f20"/>
<text x="597.50" y="598" text-anchor="middle" font-size="18.9" fill="#231f20" font-family="Liberation Sans">4.0</text>
<text x="325.3" y="635.2" font-size="19.7" fill="#231f20" font-family="Liberation Sans" textLength="72.0" lengthAdjust="spacingAndGlyphs">Age (Ga)</text>
<g transform="translate(14.6 308.6) rotate(-90)"><text x="0" y="0" font-size="17.5" fill="#231f20" font-family="Liberation Sans">&#916;<tspan font-size="10" dy="-6.5">40</tspan><tspan dy="6.5">Ca</tspan><tspan font-size="10.5" dy="7.2">915a</tspan></text></g>
<text x="107.20" y="562.50" font-size="14.4" fill="#c4c5c7" font-family="Liberation Sans" textLength="101.0" lengthAdjust="spacingAndGlyphs">Measured values</text>
<text x="552.60" y="562.60" font-size="14.4" fill="#c4c5c7" font-family="Liberation Sans" textLength="75.2" lengthAdjust="spacingAndGlyphs">Initial values</text>
<text x="277.30" y="560.80" font-size="16.2" fill="#000" font-family="Liberation Sans" textLength="146.5" lengthAdjust="spacingAndGlyphs">Mantle (K/Ca = 0.01)</text>
<text x="403.20" y="514.70" font-size="16.8" fill="#eeab21" font-family="Liberation Sans" textLength="86.0" lengthAdjust="spacingAndGlyphs">Windimurra</text>
<text x="441.20" y="560.30" font-size="16.8" fill="#ec1c24" font-family="Liberation Sans" textLength="86.8" lengthAdjust="spacingAndGlyphs">Fisken&#230;sset</text>
<text x="542.20" y="519.90" font-size="16.8" fill="#00a089" font-family="Liberation Sans" textLength="61.0" lengthAdjust="spacingAndGlyphs">Manfred</text>
<text x="153.30" y="517.90" font-size="16.2" fill="#77787b" font-family="Liberation Sans" textLength="190.3" lengthAdjust="spacingAndGlyphs">Basaltic crust (K/Ca = 0.05)</text>
<text transform="translate(507.6 502.2) scale(0.62 1)" font-size="16.5" fill="#b08bc9" font-family="Liberation Sans">?</text>
<text font-size="15.5" fill="#be98d4" font-family="Liberation Sans"><textPath href="#pMeebU" startOffset="91.5" textLength="125.0" lengthAdjust="spacingAndGlyphs">Meeberrie gneiss</textPath></text>
<text font-size="15.5" fill="#be98d4" font-family="Liberation Sans"><textPath href="#pMeebL" startOffset="66.8" textLength="167.5" lengthAdjust="spacingAndGlyphs">3.6 &#8211; 3.3 Ga, K/Ca = 2&#8211;4</textPath></text>
<text font-size="16.0" fill="#77787b" font-family="Liberation Sans"><textPath href="#pSingle" startOffset="15.0" textLength="268.0" lengthAdjust="spacingAndGlyphs">Single stage evolution: end members</textPath></text>
<text font-size="16.0" fill="#77787b" font-family="Liberation Sans"><textPath href="#pUpper" startOffset="18.0" textLength="267.0" lengthAdjust="spacingAndGlyphs">Upper continental crust (K/Ca = 0.95)</textPath></text>
<text font-size="16.0" fill="#77787b" font-family="Liberation Sans"><textPath href="#pAvg" startOffset="36.0" textLength="195.0" lengthAdjust="spacingAndGlyphs">Average crust (K/Ca = 0.35)</textPath></text>
</svg>
</body></html>
